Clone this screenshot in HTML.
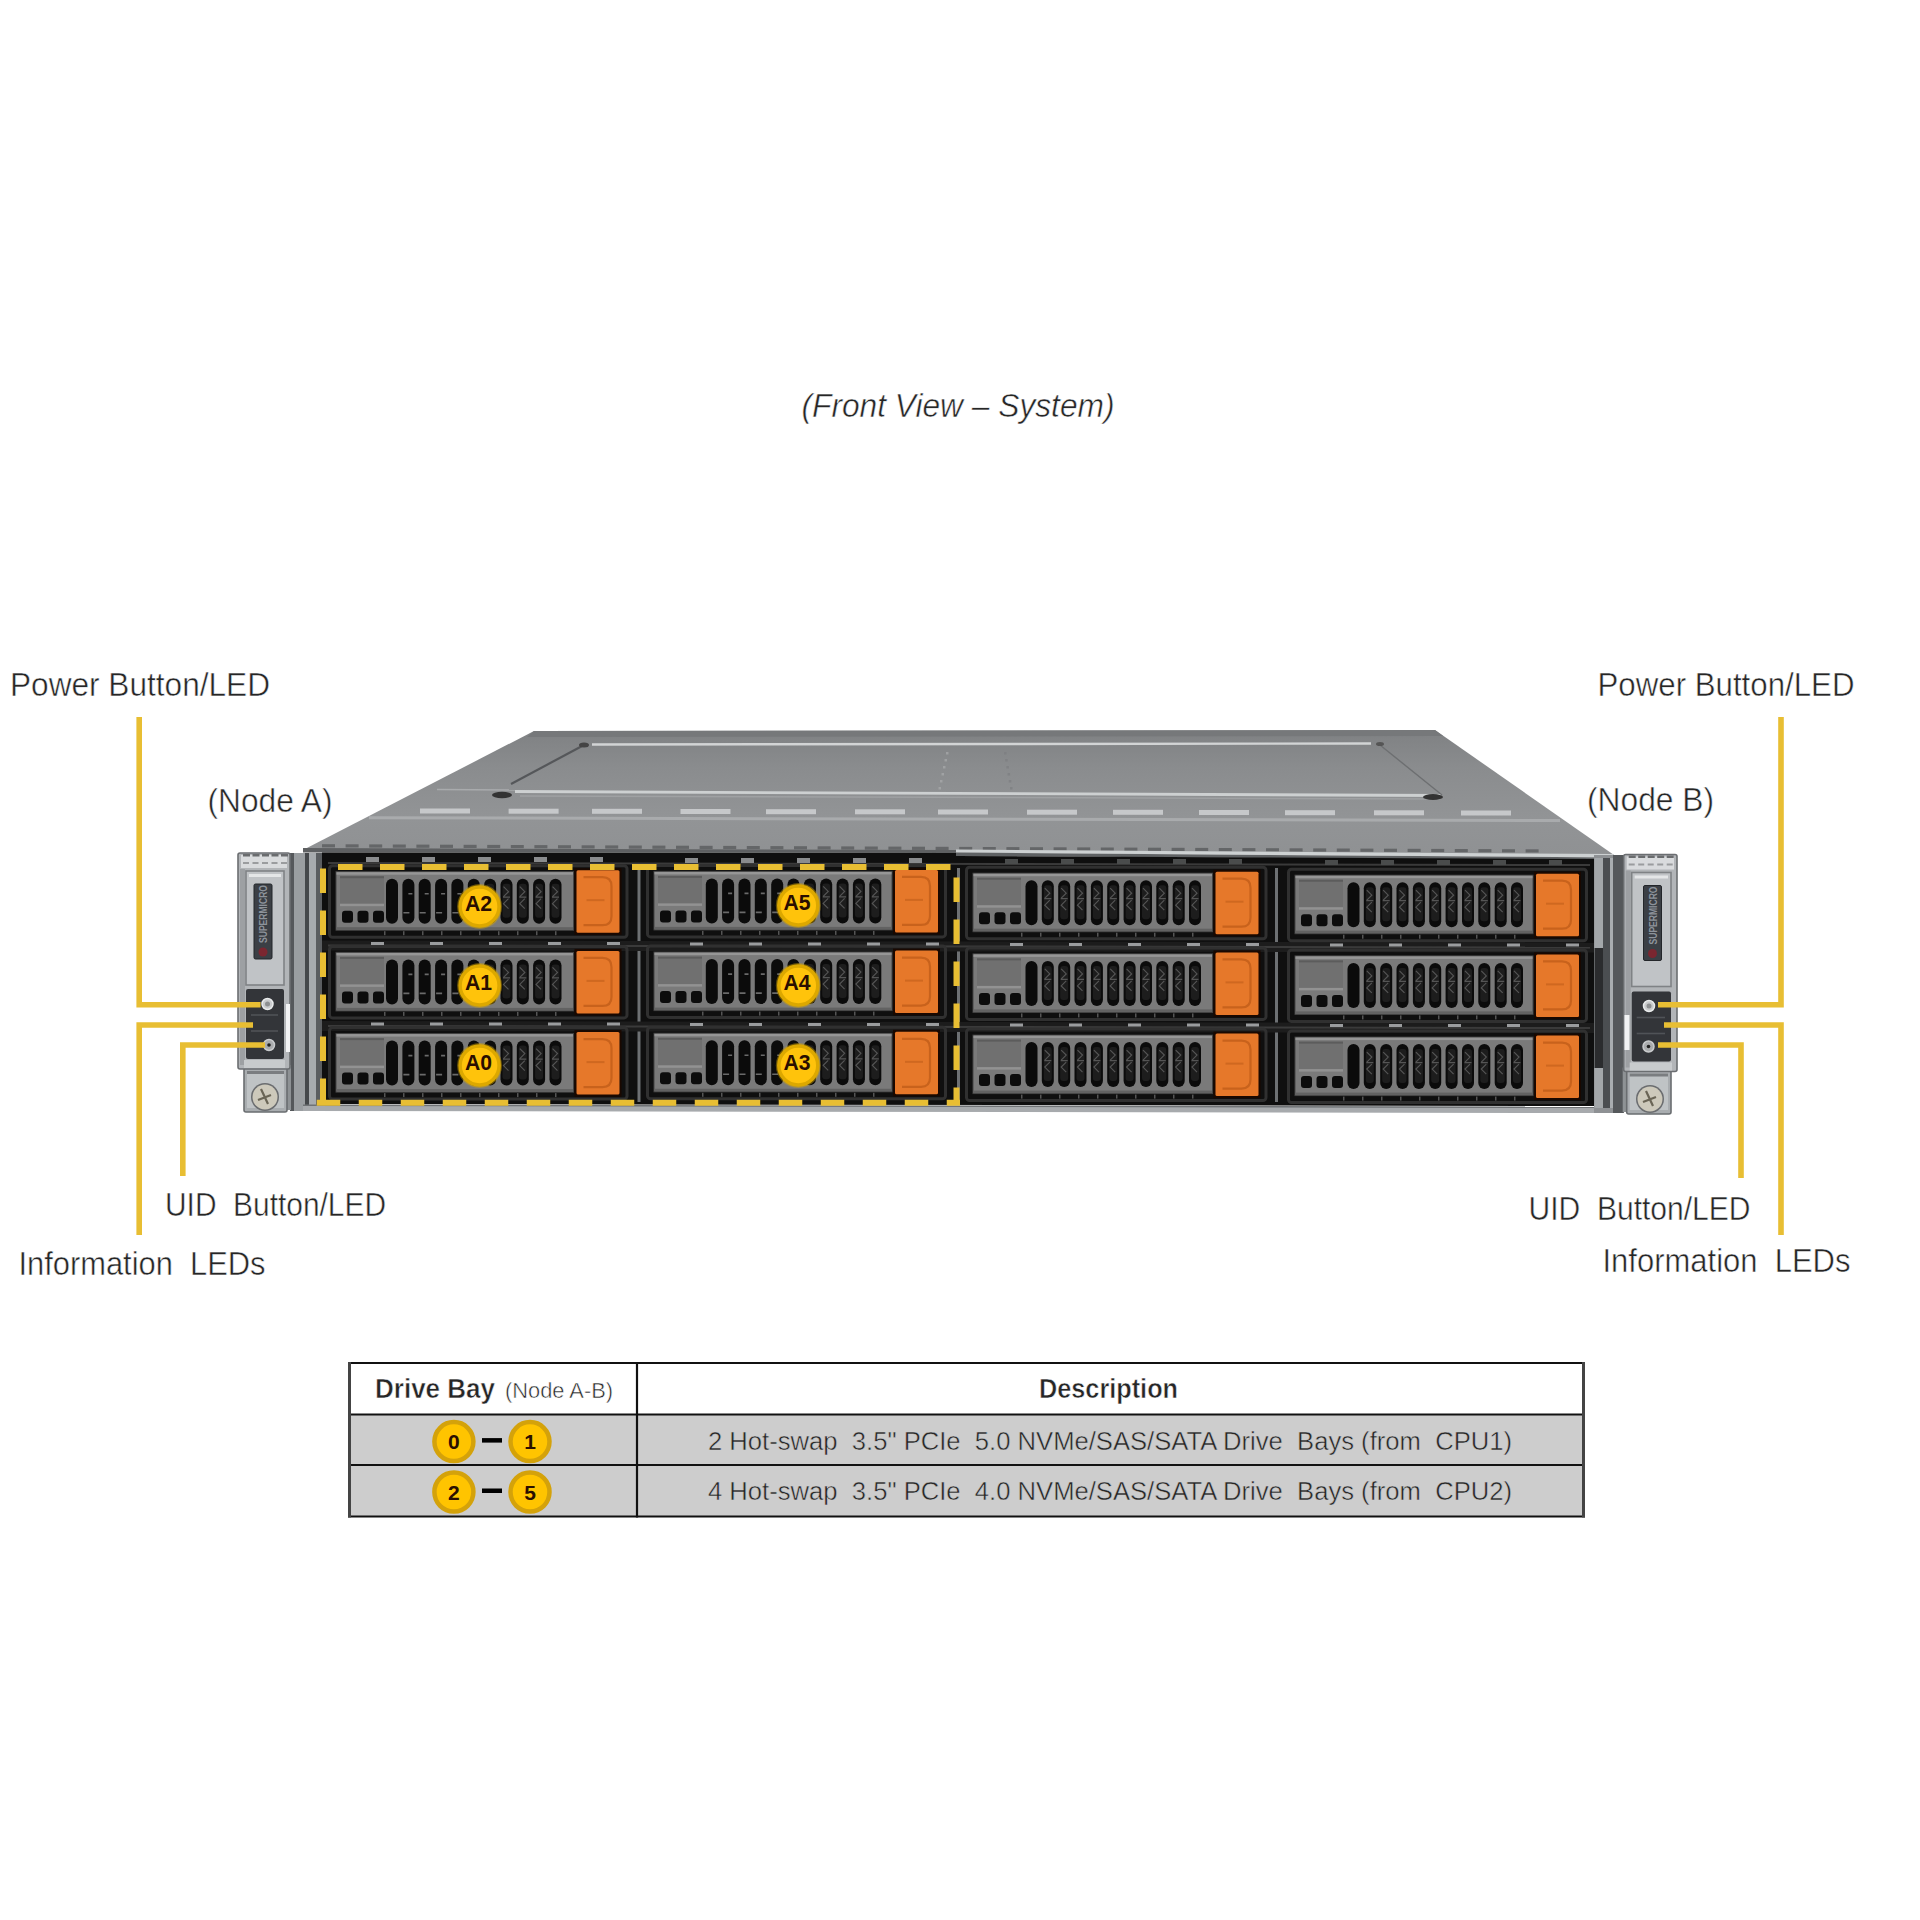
<!DOCTYPE html>
<html><head><meta charset="utf-8"><style>
html,body{margin:0;padding:0;background:#fff;width:1920px;height:1920px;overflow:hidden}
svg{display:block}
text{font-family:"Liberation Sans", sans-serif;white-space:pre}
</style></head><body>
<svg width="1920" height="1920" viewBox="0 0 1920 1920">
<defs><linearGradient id="gtop" x1="0" y1="0" x2="0" y2="1"><stop offset="0" stop-color="#7f8183"/><stop offset="0.3" stop-color="#8a8c8e"/><stop offset="0.7" stop-color="#929496"/><stop offset="1" stop-color="#8f9193"/></linearGradient></defs>
<polygon points="534,731 1435,730 1614,855 303,850" fill="url(#gtop)"/>
<polygon points="534,731 1435,730 1443,736 527,737" fill="#76787a"/>
<line x1="592" y1="744.5" x2="1371" y2="743.5" stroke="#d2d4d5" stroke-width="2.4"/>
<line x1="515" y1="791.5" x2="1441" y2="795.5" stroke="#cdd0d1" stroke-width="2.8"/>
<line x1="520" y1="796" x2="1440" y2="799" stroke="#9fa1a3" stroke-width="1.5"/>
<line x1="511" y1="784" x2="584" y2="745" stroke="#55575a" stroke-width="2.2"/>
<line x1="1380" y1="745" x2="1442" y2="795" stroke="#6d6f71" stroke-width="1.4"/>
<ellipse cx="584" cy="745" rx="5" ry="2.5" fill="#444"/>
<ellipse cx="1380" cy="744" rx="4" ry="2" fill="#555"/>
<ellipse cx="502" cy="795" rx="10" ry="3.2" fill="#333"/>
<ellipse cx="1433" cy="797" rx="10" ry="3" fill="#333"/>
<rect x="946.0" y="752" width="2.5" height="2.5" fill="#a9abad" opacity="0.7"/>
<rect x="1004.0" y="752" width="2.5" height="2.5" fill="#7c7e80" opacity="0.7"/>
<rect x="944.5" y="759" width="2.5" height="2.5" fill="#a9abad" opacity="0.7"/>
<rect x="1005.2" y="759" width="2.5" height="2.5" fill="#7c7e80" opacity="0.7"/>
<rect x="943.0" y="766" width="2.5" height="2.5" fill="#a9abad" opacity="0.7"/>
<rect x="1006.4" y="766" width="2.5" height="2.5" fill="#7c7e80" opacity="0.7"/>
<rect x="941.5" y="773" width="2.5" height="2.5" fill="#a9abad" opacity="0.7"/>
<rect x="1007.6" y="773" width="2.5" height="2.5" fill="#7c7e80" opacity="0.7"/>
<rect x="940.0" y="780" width="2.5" height="2.5" fill="#a9abad" opacity="0.7"/>
<rect x="1008.8" y="780" width="2.5" height="2.5" fill="#7c7e80" opacity="0.7"/>
<rect x="938.5" y="787" width="2.5" height="2.5" fill="#a9abad" opacity="0.7"/>
<rect x="1010.0" y="787" width="2.5" height="2.5" fill="#7c7e80" opacity="0.7"/>
<rect x="420" y="808.5" width="50" height="5" fill="#c6c8ca"/>
<rect x="508.6" y="808.7" width="50" height="5" fill="#c6c8ca"/>
<rect x="592" y="808.8" width="50" height="5" fill="#c6c8ca"/>
<rect x="680.5" y="809.0" width="50" height="5" fill="#c6c8ca"/>
<rect x="766" y="809.2" width="50" height="5" fill="#c6c8ca"/>
<rect x="855" y="809.3" width="50" height="5" fill="#c6c8ca"/>
<rect x="938" y="809.5" width="50" height="5" fill="#c6c8ca"/>
<rect x="1027" y="809.7" width="50" height="5" fill="#c6c8ca"/>
<rect x="1113" y="809.8" width="50" height="5" fill="#c6c8ca"/>
<rect x="1199" y="810.0" width="50" height="5" fill="#c6c8ca"/>
<rect x="1285" y="810.2" width="50" height="5" fill="#c6c8ca"/>
<rect x="1374" y="810.3" width="50" height="5" fill="#c6c8ca"/>
<rect x="1461" y="810.5" width="50" height="5" fill="#c6c8ca"/>
<line x1="369" y1="817.8" x2="1560" y2="820.5" stroke="#a9abad" stroke-width="3"/>
<line x1="437" y1="789.5" x2="515" y2="790" stroke="#a9abad" stroke-width="1.6"/>
<rect x="322.0" y="844.2" width="13" height="3.2" fill="#646668"/>
<rect x="345.6" y="844.3" width="13" height="3.2" fill="#646668"/>
<rect x="369.2" y="844.4" width="13" height="3.2" fill="#646668"/>
<rect x="392.8" y="844.5" width="13" height="3.2" fill="#646668"/>
<rect x="416.4" y="844.6" width="13" height="3.2" fill="#646668"/>
<rect x="440.0" y="844.7" width="13" height="3.2" fill="#646668"/>
<rect x="463.6" y="844.8" width="13" height="3.2" fill="#646668"/>
<rect x="487.2" y="844.9" width="13" height="3.2" fill="#646668"/>
<rect x="510.8" y="845.0" width="13" height="3.2" fill="#646668"/>
<rect x="534.4" y="845.1" width="13" height="3.2" fill="#646668"/>
<rect x="558.0" y="845.2" width="13" height="3.2" fill="#646668"/>
<rect x="581.6" y="845.3" width="13" height="3.2" fill="#646668"/>
<rect x="605.2" y="845.4" width="13" height="3.2" fill="#646668"/>
<rect x="628.8" y="845.5" width="13" height="3.2" fill="#646668"/>
<rect x="652.4" y="845.6" width="13" height="3.2" fill="#646668"/>
<rect x="676.0" y="845.7" width="13" height="3.2" fill="#646668"/>
<rect x="699.6" y="845.8" width="13" height="3.2" fill="#646668"/>
<rect x="723.2" y="845.9" width="13" height="3.2" fill="#646668"/>
<rect x="746.8" y="846.0" width="13" height="3.2" fill="#646668"/>
<rect x="770.4" y="846.1" width="13" height="3.2" fill="#646668"/>
<rect x="794.0" y="846.2" width="13" height="3.2" fill="#646668"/>
<rect x="817.6" y="846.3" width="13" height="3.2" fill="#646668"/>
<rect x="841.2" y="846.4" width="13" height="3.2" fill="#646668"/>
<rect x="864.8" y="846.5" width="13" height="3.2" fill="#646668"/>
<rect x="888.4" y="846.6" width="13" height="3.2" fill="#646668"/>
<rect x="912.0" y="846.7" width="13" height="3.2" fill="#646668"/>
<rect x="935.6" y="846.8" width="13" height="3.2" fill="#646668"/>
<rect x="959.2" y="846.9" width="13" height="3.2" fill="#646668"/>
<rect x="982.8" y="847.0" width="13" height="3.2" fill="#646668"/>
<rect x="1006.4" y="847.1" width="13" height="3.2" fill="#646668"/>
<rect x="1030.0" y="847.2" width="13" height="3.2" fill="#646668"/>
<rect x="1053.6" y="847.3" width="13" height="3.2" fill="#646668"/>
<rect x="1077.2" y="847.4" width="13" height="3.2" fill="#646668"/>
<rect x="1100.8" y="847.5" width="13" height="3.2" fill="#646668"/>
<rect x="1124.4" y="847.6" width="13" height="3.2" fill="#646668"/>
<rect x="1148.0" y="847.7" width="13" height="3.2" fill="#646668"/>
<rect x="1171.6" y="847.8" width="13" height="3.2" fill="#646668"/>
<rect x="1195.2" y="847.9" width="13" height="3.2" fill="#646668"/>
<rect x="1218.8" y="848.0" width="13" height="3.2" fill="#646668"/>
<rect x="1242.4" y="848.1" width="13" height="3.2" fill="#646668"/>
<rect x="1266.0" y="848.2" width="13" height="3.2" fill="#646668"/>
<rect x="1289.6" y="848.3" width="13" height="3.2" fill="#646668"/>
<rect x="1313.2" y="848.4" width="13" height="3.2" fill="#646668"/>
<rect x="1336.8" y="848.5" width="13" height="3.2" fill="#646668"/>
<rect x="1360.4" y="848.6" width="13" height="3.2" fill="#646668"/>
<rect x="1384.0" y="848.7" width="13" height="3.2" fill="#646668"/>
<rect x="1407.6" y="848.8" width="13" height="3.2" fill="#646668"/>
<rect x="1431.2" y="848.9" width="13" height="3.2" fill="#646668"/>
<rect x="1454.8" y="849.0" width="13" height="3.2" fill="#646668"/>
<rect x="1478.4" y="849.1" width="13" height="3.2" fill="#646668"/>
<rect x="1502.0" y="849.2" width="13" height="3.2" fill="#646668"/>
<rect x="1525.6" y="849.3" width="13" height="3.2" fill="#646668"/>
<polygon points="303,848 956,850 956,853 303,852.5" fill="#5e6062"/>
<polygon points="956,849.5 1614,854 1614,857.5 956,852.5" fill="#cdd1d2"/>
<polygon points="956,852.5 1614,857.5 1614,860 956,856" fill="#5f6264"/>
<rect x="290" y="853" width="33" height="258" fill="#8e9194"/>
<rect x="290" y="853" width="4" height="258" fill="#55585b"/>
<rect x="294" y="853" width="11" height="258" fill="#9a9ea1"/>
<rect x="305" y="853" width="4" height="258" fill="#45484b"/>
<rect x="309" y="853" width="7" height="258" fill="#a7abae"/>
<rect x="316" y="853" width="6" height="258" fill="#5a5d60"/>
<rect x="1594" y="855" width="30" height="258" fill="#8e9194"/>
<rect x="1594.5" y="858" width="8.5" height="250" fill="#a3a7aa"/>
<rect x="1603" y="858" width="7" height="250" fill="#4b4e51"/>
<rect x="1610" y="858" width="3" height="250" fill="#a9adb0"/>
<rect x="1613" y="855" width="10.7" height="258" fill="#55585b"/>
<rect x="1594.5" y="948" width="8.5" height="120" fill="#2b2c2e"/>
<polygon points="322,852.5 956,853 956,856 1594,859 1594,1106 322,1104" fill="#0f0f0f"/>
<polygon points="328,862 1590,864 1590,866 328,864" fill="#3a3a3a"/>
<rect x="366" y="857.0" width="13" height="5" fill="#8a8c8e"/>
<rect x="422" y="857.0" width="13" height="5" fill="#8a8c8e"/>
<rect x="478" y="857.0" width="13" height="5" fill="#8a8c8e"/>
<rect x="534" y="857.0" width="13" height="5" fill="#8a8c8e"/>
<rect x="590" y="857.0" width="13" height="5" fill="#8a8c8e"/>
<rect x="685" y="858.0" width="13" height="5" fill="#8a8c8e"/>
<rect x="741" y="858.0" width="13" height="5" fill="#8a8c8e"/>
<rect x="797" y="858.0" width="13" height="5" fill="#8a8c8e"/>
<rect x="853" y="858.0" width="13" height="5" fill="#8a8c8e"/>
<rect x="909" y="858.0" width="13" height="5" fill="#8a8c8e"/>
<rect x="1005" y="859.0" width="13" height="5" fill="#4a4c4c"/>
<rect x="1061" y="859.0" width="13" height="5" fill="#4a4c4c"/>
<rect x="1117" y="859.0" width="13" height="5" fill="#4a4c4c"/>
<rect x="1173" y="859.0" width="13" height="5" fill="#4a4c4c"/>
<rect x="1229" y="859.0" width="13" height="5" fill="#4a4c4c"/>
<rect x="1325" y="860.0" width="13" height="5" fill="#4a4c4c"/>
<rect x="1381" y="860.0" width="13" height="5" fill="#4a4c4c"/>
<rect x="1437" y="860.0" width="13" height="5" fill="#4a4c4c"/>
<rect x="1493" y="860.0" width="13" height="5" fill="#4a4c4c"/>
<rect x="1549" y="860.0" width="13" height="5" fill="#4a4c4c"/>
<rect x="637.5" y="868" width="3" height="234" fill="#6d7073"/>
<rect x="957" y="868" width="3" height="234" fill="#6d7073"/>
<rect x="1275" y="868" width="3" height="234" fill="#6d7073"/>
<polygon points="322,940.5 1594,942.5 1594,952.5 322,950.5" fill="#1c1c1c"/>
<line x1="328" y1="945.5" x2="1590" y2="947.5" stroke="#3a3a3a" stroke-width="2"/>
<polygon points="322,1021 1594,1023 1594,1033 322,1031" fill="#1c1c1c"/>
<line x1="328" y1="1026" x2="1590" y2="1028" stroke="#3a3a3a" stroke-width="2"/>
<rect x="329.5" y="865.7" width="297.5" height="71.5" rx="3" fill="none" stroke="#303030" stroke-width="3"/>
<rect x="336" y="871.7" width="237.5" height="58.5" fill="#7a7a7a" stroke="#444" stroke-width="1"/>
<rect x="336.5" y="872.2" width="236.5" height="2.5" fill="#969696"/>
<rect x="336.5" y="927.2" width="236.5" height="2.5" fill="#626262"/>
<rect x="340" y="876.2" width="44" height="28" fill="#707070"/>
<rect x="340" y="876.2" width="44" height="2" fill="#5c5c5c"/>
<rect x="340" y="903.7" width="44" height="2.5" fill="#929292"/>
<rect x="342.0" y="910.7" width="11" height="12" rx="3" fill="#0c0c0c"/>
<rect x="357.5" y="910.7" width="11" height="12" rx="3" fill="#0c0c0c"/>
<rect x="373.0" y="910.7" width="11" height="12" rx="3" fill="#0c0c0c"/>
<rect x="386.0" y="878.7" width="12" height="45" rx="6" fill="#0b0b0b"/>
<rect x="402.4" y="878.7" width="12" height="45" rx="6" fill="#0b0b0b"/>
<path d="M408.4,893.7 h4 M403.4,912.7 h6" stroke="#6a6a6a" stroke-width="1.6" fill="none"/>
<rect x="418.7" y="878.7" width="12" height="45" rx="6" fill="#0b0b0b"/>
<path d="M424.7,893.7 h4 M419.7,912.7 h6" stroke="#6a6a6a" stroke-width="1.6" fill="none"/>
<rect x="435.1" y="878.7" width="12" height="45" rx="6" fill="#0b0b0b"/>
<path d="M441.1,893.7 h4 M436.1,912.7 h6" stroke="#6a6a6a" stroke-width="1.6" fill="none"/>
<rect x="451.4" y="878.7" width="12" height="45" rx="6" fill="#0b0b0b"/>
<path d="M457.4,893.7 h4 M452.4,912.7 h6" stroke="#6a6a6a" stroke-width="1.6" fill="none"/>
<rect x="467.8" y="878.7" width="12" height="45" rx="6" fill="#0b0b0b"/>
<path d="M473.8,893.7 h4 M468.8,912.7 h6" stroke="#6a6a6a" stroke-width="1.6" fill="none"/>
<rect x="484.1" y="878.7" width="12" height="45" rx="6" fill="#0b0b0b"/>
<rect x="486.1" y="883.7" width="8" height="34" rx="3" fill="#1d1d1d"/>
<path d="M487.1,886.7 l5,5 l-5,5 M492.1,898.7 l-5,5 l5,5 M486.6,897.2 h7" stroke="#555" stroke-width="1.2" fill="none"/>
<rect x="500.5" y="878.7" width="12" height="45" rx="6" fill="#0b0b0b"/>
<rect x="502.5" y="883.7" width="8" height="34" rx="3" fill="#1d1d1d"/>
<path d="M503.5,886.7 l5,5 l-5,5 M508.5,898.7 l-5,5 l5,5 M503.0,897.2 h7" stroke="#555" stroke-width="1.2" fill="none"/>
<rect x="516.8" y="878.7" width="12" height="45" rx="6" fill="#0b0b0b"/>
<rect x="518.8" y="883.7" width="8" height="34" rx="3" fill="#1d1d1d"/>
<path d="M519.8,886.7 l5,5 l-5,5 M524.8,898.7 l-5,5 l5,5 M519.3,897.2 h7" stroke="#555" stroke-width="1.2" fill="none"/>
<rect x="533.1" y="878.7" width="12" height="45" rx="6" fill="#0b0b0b"/>
<rect x="535.1" y="883.7" width="8" height="34" rx="3" fill="#1d1d1d"/>
<path d="M536.1,886.7 l5,5 l-5,5 M541.1,898.7 l-5,5 l5,5 M535.6,897.2 h7" stroke="#555" stroke-width="1.2" fill="none"/>
<rect x="549.5" y="878.7" width="12" height="45" rx="6" fill="#0b0b0b"/>
<rect x="551.5" y="883.7" width="8" height="34" rx="3" fill="#1d1d1d"/>
<path d="M552.5,886.7 l5,5 l-5,5 M557.5,898.7 l-5,5 l5,5 M552.0,897.2 h7" stroke="#555" stroke-width="1.2" fill="none"/>
<rect x="384" y="931.2" width="1.5" height="4" fill="#555"/>
<rect x="403" y="931.2" width="1.5" height="4" fill="#555"/>
<rect x="422" y="931.2" width="1.5" height="4" fill="#555"/>
<rect x="441" y="931.2" width="1.5" height="4" fill="#555"/>
<rect x="460" y="931.2" width="1.5" height="4" fill="#555"/>
<rect x="479" y="931.2" width="1.5" height="4" fill="#555"/>
<rect x="498" y="931.2" width="1.5" height="4" fill="#555"/>
<rect x="517" y="931.2" width="1.5" height="4" fill="#555"/>
<rect x="536" y="931.2" width="1.5" height="4" fill="#555"/>
<rect x="555" y="931.2" width="1.5" height="4" fill="#555"/>
<rect x="574.5" y="868.2" width="47" height="66.5" fill="#1a0800"/>
<rect x="576.5" y="870.2" width="43" height="62.5" rx="1.5" fill="#E6782A"/>
<path d="M583.5,877.2 h19 q9,0 9,9 v30 q0,9 -9,9 h-19" fill="none" stroke="#c8621c" stroke-width="2.2"/>
<rect x="586.5" y="899.2" width="18" height="2" fill="#cf6820"/>
<rect x="329.5" y="946.4" width="297.5" height="71.5" rx="3" fill="none" stroke="#303030" stroke-width="3"/>
<rect x="336" y="952.4" width="237.5" height="58.5" fill="#7a7a7a" stroke="#444" stroke-width="1"/>
<rect x="336.5" y="952.9" width="236.5" height="2.5" fill="#969696"/>
<rect x="336.5" y="1007.9" width="236.5" height="2.5" fill="#626262"/>
<rect x="340" y="956.9" width="44" height="28" fill="#707070"/>
<rect x="340" y="956.9" width="44" height="2" fill="#5c5c5c"/>
<rect x="340" y="984.4" width="44" height="2.5" fill="#929292"/>
<rect x="342.0" y="991.4" width="11" height="12" rx="3" fill="#0c0c0c"/>
<rect x="357.5" y="991.4" width="11" height="12" rx="3" fill="#0c0c0c"/>
<rect x="373.0" y="991.4" width="11" height="12" rx="3" fill="#0c0c0c"/>
<rect x="386.0" y="959.4" width="12" height="45" rx="6" fill="#0b0b0b"/>
<rect x="402.4" y="959.4" width="12" height="45" rx="6" fill="#0b0b0b"/>
<path d="M408.4,974.4 h4 M403.4,993.4 h6" stroke="#6a6a6a" stroke-width="1.6" fill="none"/>
<rect x="418.7" y="959.4" width="12" height="45" rx="6" fill="#0b0b0b"/>
<path d="M424.7,974.4 h4 M419.7,993.4 h6" stroke="#6a6a6a" stroke-width="1.6" fill="none"/>
<rect x="435.1" y="959.4" width="12" height="45" rx="6" fill="#0b0b0b"/>
<path d="M441.1,974.4 h4 M436.1,993.4 h6" stroke="#6a6a6a" stroke-width="1.6" fill="none"/>
<rect x="451.4" y="959.4" width="12" height="45" rx="6" fill="#0b0b0b"/>
<path d="M457.4,974.4 h4 M452.4,993.4 h6" stroke="#6a6a6a" stroke-width="1.6" fill="none"/>
<rect x="467.8" y="959.4" width="12" height="45" rx="6" fill="#0b0b0b"/>
<path d="M473.8,974.4 h4 M468.8,993.4 h6" stroke="#6a6a6a" stroke-width="1.6" fill="none"/>
<rect x="484.1" y="959.4" width="12" height="45" rx="6" fill="#0b0b0b"/>
<rect x="486.1" y="964.4" width="8" height="34" rx="3" fill="#1d1d1d"/>
<path d="M487.1,967.4 l5,5 l-5,5 M492.1,979.4 l-5,5 l5,5 M486.6,977.9 h7" stroke="#555" stroke-width="1.2" fill="none"/>
<rect x="500.5" y="959.4" width="12" height="45" rx="6" fill="#0b0b0b"/>
<rect x="502.5" y="964.4" width="8" height="34" rx="3" fill="#1d1d1d"/>
<path d="M503.5,967.4 l5,5 l-5,5 M508.5,979.4 l-5,5 l5,5 M503.0,977.9 h7" stroke="#555" stroke-width="1.2" fill="none"/>
<rect x="516.8" y="959.4" width="12" height="45" rx="6" fill="#0b0b0b"/>
<rect x="518.8" y="964.4" width="8" height="34" rx="3" fill="#1d1d1d"/>
<path d="M519.8,967.4 l5,5 l-5,5 M524.8,979.4 l-5,5 l5,5 M519.3,977.9 h7" stroke="#555" stroke-width="1.2" fill="none"/>
<rect x="533.1" y="959.4" width="12" height="45" rx="6" fill="#0b0b0b"/>
<rect x="535.1" y="964.4" width="8" height="34" rx="3" fill="#1d1d1d"/>
<path d="M536.1,967.4 l5,5 l-5,5 M541.1,979.4 l-5,5 l5,5 M535.6,977.9 h7" stroke="#555" stroke-width="1.2" fill="none"/>
<rect x="549.5" y="959.4" width="12" height="45" rx="6" fill="#0b0b0b"/>
<rect x="551.5" y="964.4" width="8" height="34" rx="3" fill="#1d1d1d"/>
<path d="M552.5,967.4 l5,5 l-5,5 M557.5,979.4 l-5,5 l5,5 M552.0,977.9 h7" stroke="#555" stroke-width="1.2" fill="none"/>
<rect x="384" y="1011.9" width="1.5" height="4" fill="#555"/>
<rect x="403" y="1011.9" width="1.5" height="4" fill="#555"/>
<rect x="422" y="1011.9" width="1.5" height="4" fill="#555"/>
<rect x="441" y="1011.9" width="1.5" height="4" fill="#555"/>
<rect x="460" y="1011.9" width="1.5" height="4" fill="#555"/>
<rect x="479" y="1011.9" width="1.5" height="4" fill="#555"/>
<rect x="498" y="1011.9" width="1.5" height="4" fill="#555"/>
<rect x="517" y="1011.9" width="1.5" height="4" fill="#555"/>
<rect x="536" y="1011.9" width="1.5" height="4" fill="#555"/>
<rect x="555" y="1011.9" width="1.5" height="4" fill="#555"/>
<rect x="574.5" y="948.9" width="47" height="66.5" fill="#1a0800"/>
<rect x="576.5" y="950.9" width="43" height="62.5" rx="1.5" fill="#E6782A"/>
<path d="M583.5,957.9 h19 q9,0 9,9 v30 q0,9 -9,9 h-19" fill="none" stroke="#c8621c" stroke-width="2.2"/>
<rect x="586.5" y="979.9" width="18" height="2" fill="#cf6820"/>
<rect x="329.5" y="1027.6" width="297.5" height="71.5" rx="3" fill="none" stroke="#303030" stroke-width="3"/>
<rect x="336" y="1033.6" width="237.5" height="58.5" fill="#7a7a7a" stroke="#444" stroke-width="1"/>
<rect x="336.5" y="1034.1" width="236.5" height="2.5" fill="#969696"/>
<rect x="336.5" y="1089.1" width="236.5" height="2.5" fill="#626262"/>
<rect x="340" y="1038.1" width="44" height="28" fill="#707070"/>
<rect x="340" y="1038.1" width="44" height="2" fill="#5c5c5c"/>
<rect x="340" y="1065.6" width="44" height="2.5" fill="#929292"/>
<rect x="342.0" y="1072.6" width="11" height="12" rx="3" fill="#0c0c0c"/>
<rect x="357.5" y="1072.6" width="11" height="12" rx="3" fill="#0c0c0c"/>
<rect x="373.0" y="1072.6" width="11" height="12" rx="3" fill="#0c0c0c"/>
<rect x="386.0" y="1040.6" width="12" height="45" rx="6" fill="#0b0b0b"/>
<rect x="402.4" y="1040.6" width="12" height="45" rx="6" fill="#0b0b0b"/>
<path d="M408.4,1055.6 h4 M403.4,1074.6 h6" stroke="#6a6a6a" stroke-width="1.6" fill="none"/>
<rect x="418.7" y="1040.6" width="12" height="45" rx="6" fill="#0b0b0b"/>
<path d="M424.7,1055.6 h4 M419.7,1074.6 h6" stroke="#6a6a6a" stroke-width="1.6" fill="none"/>
<rect x="435.1" y="1040.6" width="12" height="45" rx="6" fill="#0b0b0b"/>
<path d="M441.1,1055.6 h4 M436.1,1074.6 h6" stroke="#6a6a6a" stroke-width="1.6" fill="none"/>
<rect x="451.4" y="1040.6" width="12" height="45" rx="6" fill="#0b0b0b"/>
<path d="M457.4,1055.6 h4 M452.4,1074.6 h6" stroke="#6a6a6a" stroke-width="1.6" fill="none"/>
<rect x="467.8" y="1040.6" width="12" height="45" rx="6" fill="#0b0b0b"/>
<path d="M473.8,1055.6 h4 M468.8,1074.6 h6" stroke="#6a6a6a" stroke-width="1.6" fill="none"/>
<rect x="484.1" y="1040.6" width="12" height="45" rx="6" fill="#0b0b0b"/>
<rect x="486.1" y="1045.6" width="8" height="34" rx="3" fill="#1d1d1d"/>
<path d="M487.1,1048.6 l5,5 l-5,5 M492.1,1060.6 l-5,5 l5,5 M486.6,1059.1 h7" stroke="#555" stroke-width="1.2" fill="none"/>
<rect x="500.5" y="1040.6" width="12" height="45" rx="6" fill="#0b0b0b"/>
<rect x="502.5" y="1045.6" width="8" height="34" rx="3" fill="#1d1d1d"/>
<path d="M503.5,1048.6 l5,5 l-5,5 M508.5,1060.6 l-5,5 l5,5 M503.0,1059.1 h7" stroke="#555" stroke-width="1.2" fill="none"/>
<rect x="516.8" y="1040.6" width="12" height="45" rx="6" fill="#0b0b0b"/>
<rect x="518.8" y="1045.6" width="8" height="34" rx="3" fill="#1d1d1d"/>
<path d="M519.8,1048.6 l5,5 l-5,5 M524.8,1060.6 l-5,5 l5,5 M519.3,1059.1 h7" stroke="#555" stroke-width="1.2" fill="none"/>
<rect x="533.1" y="1040.6" width="12" height="45" rx="6" fill="#0b0b0b"/>
<rect x="535.1" y="1045.6" width="8" height="34" rx="3" fill="#1d1d1d"/>
<path d="M536.1,1048.6 l5,5 l-5,5 M541.1,1060.6 l-5,5 l5,5 M535.6,1059.1 h7" stroke="#555" stroke-width="1.2" fill="none"/>
<rect x="549.5" y="1040.6" width="12" height="45" rx="6" fill="#0b0b0b"/>
<rect x="551.5" y="1045.6" width="8" height="34" rx="3" fill="#1d1d1d"/>
<path d="M552.5,1048.6 l5,5 l-5,5 M557.5,1060.6 l-5,5 l5,5 M552.0,1059.1 h7" stroke="#555" stroke-width="1.2" fill="none"/>
<rect x="384" y="1093.1" width="1.5" height="4" fill="#555"/>
<rect x="403" y="1093.1" width="1.5" height="4" fill="#555"/>
<rect x="422" y="1093.1" width="1.5" height="4" fill="#555"/>
<rect x="441" y="1093.1" width="1.5" height="4" fill="#555"/>
<rect x="460" y="1093.1" width="1.5" height="4" fill="#555"/>
<rect x="479" y="1093.1" width="1.5" height="4" fill="#555"/>
<rect x="498" y="1093.1" width="1.5" height="4" fill="#555"/>
<rect x="517" y="1093.1" width="1.5" height="4" fill="#555"/>
<rect x="536" y="1093.1" width="1.5" height="4" fill="#555"/>
<rect x="555" y="1093.1" width="1.5" height="4" fill="#555"/>
<rect x="574.5" y="1030.1" width="47" height="66.5" fill="#1a0800"/>
<rect x="576.5" y="1032.1" width="43" height="62.5" rx="1.5" fill="#E6782A"/>
<path d="M583.5,1039.1 h19 q9,0 9,9 v30 q0,9 -9,9 h-19" fill="none" stroke="#c8621c" stroke-width="2.2"/>
<rect x="586.5" y="1061.1" width="18" height="2" fill="#cf6820"/>
<rect x="647.5" y="865.4000000000001" width="298.0" height="71.5" rx="3" fill="none" stroke="#303030" stroke-width="3"/>
<rect x="654" y="871.4000000000001" width="238" height="58.5" fill="#7a7a7a" stroke="#444" stroke-width="1"/>
<rect x="654.5" y="871.9000000000001" width="237" height="2.5" fill="#969696"/>
<rect x="654.5" y="926.9000000000001" width="237" height="2.5" fill="#626262"/>
<rect x="658" y="875.9000000000001" width="44" height="28" fill="#707070"/>
<rect x="658" y="875.9000000000001" width="44" height="2" fill="#5c5c5c"/>
<rect x="658" y="903.4000000000001" width="44" height="2.5" fill="#929292"/>
<rect x="660.0" y="910.4000000000001" width="11" height="12" rx="3" fill="#0c0c0c"/>
<rect x="675.5" y="910.4000000000001" width="11" height="12" rx="3" fill="#0c0c0c"/>
<rect x="691.0" y="910.4000000000001" width="11" height="12" rx="3" fill="#0c0c0c"/>
<rect x="705.8" y="878.4000000000001" width="12" height="45" rx="6" fill="#0b0b0b"/>
<rect x="722.1" y="878.4000000000001" width="12" height="45" rx="6" fill="#0b0b0b"/>
<path d="M728.1,893.4000000000001 h4 M723.1,912.4000000000001 h6" stroke="#6a6a6a" stroke-width="1.6" fill="none"/>
<rect x="738.5" y="878.4000000000001" width="12" height="45" rx="6" fill="#0b0b0b"/>
<path d="M744.5,893.4000000000001 h4 M739.5,912.4000000000001 h6" stroke="#6a6a6a" stroke-width="1.6" fill="none"/>
<rect x="754.8" y="878.4000000000001" width="12" height="45" rx="6" fill="#0b0b0b"/>
<path d="M760.8,893.4000000000001 h4 M755.8,912.4000000000001 h6" stroke="#6a6a6a" stroke-width="1.6" fill="none"/>
<rect x="771.2" y="878.4000000000001" width="12" height="45" rx="6" fill="#0b0b0b"/>
<path d="M777.2,893.4000000000001 h4 M772.2,912.4000000000001 h6" stroke="#6a6a6a" stroke-width="1.6" fill="none"/>
<rect x="787.5" y="878.4000000000001" width="12" height="45" rx="6" fill="#0b0b0b"/>
<path d="M793.5,893.4000000000001 h4 M788.5,912.4000000000001 h6" stroke="#6a6a6a" stroke-width="1.6" fill="none"/>
<rect x="803.9" y="878.4000000000001" width="12" height="45" rx="6" fill="#0b0b0b"/>
<rect x="805.9" y="883.4000000000001" width="8" height="34" rx="3" fill="#1d1d1d"/>
<path d="M806.9,886.4000000000001 l5,5 l-5,5 M811.9,898.4000000000001 l-5,5 l5,5 M806.4,896.9000000000001 h7" stroke="#555" stroke-width="1.2" fill="none"/>
<rect x="820.2" y="878.4000000000001" width="12" height="45" rx="6" fill="#0b0b0b"/>
<rect x="822.2" y="883.4000000000001" width="8" height="34" rx="3" fill="#1d1d1d"/>
<path d="M823.2,886.4000000000001 l5,5 l-5,5 M828.2,898.4000000000001 l-5,5 l5,5 M822.8,896.9000000000001 h7" stroke="#555" stroke-width="1.2" fill="none"/>
<rect x="836.6" y="878.4000000000001" width="12" height="45" rx="6" fill="#0b0b0b"/>
<rect x="838.6" y="883.4000000000001" width="8" height="34" rx="3" fill="#1d1d1d"/>
<path d="M839.6,886.4000000000001 l5,5 l-5,5 M844.6,898.4000000000001 l-5,5 l5,5 M839.1,896.9000000000001 h7" stroke="#555" stroke-width="1.2" fill="none"/>
<rect x="852.9" y="878.4000000000001" width="12" height="45" rx="6" fill="#0b0b0b"/>
<rect x="854.9" y="883.4000000000001" width="8" height="34" rx="3" fill="#1d1d1d"/>
<path d="M855.9,886.4000000000001 l5,5 l-5,5 M860.9,898.4000000000001 l-5,5 l5,5 M855.4,896.9000000000001 h7" stroke="#555" stroke-width="1.2" fill="none"/>
<rect x="869.3" y="878.4000000000001" width="12" height="45" rx="6" fill="#0b0b0b"/>
<rect x="871.3" y="883.4000000000001" width="8" height="34" rx="3" fill="#1d1d1d"/>
<path d="M872.3,886.4000000000001 l5,5 l-5,5 M877.3,898.4000000000001 l-5,5 l5,5 M871.8,896.9000000000001 h7" stroke="#555" stroke-width="1.2" fill="none"/>
<rect x="702" y="930.9000000000001" width="1.5" height="4" fill="#555"/>
<rect x="721" y="930.9000000000001" width="1.5" height="4" fill="#555"/>
<rect x="740" y="930.9000000000001" width="1.5" height="4" fill="#555"/>
<rect x="759" y="930.9000000000001" width="1.5" height="4" fill="#555"/>
<rect x="778" y="930.9000000000001" width="1.5" height="4" fill="#555"/>
<rect x="797" y="930.9000000000001" width="1.5" height="4" fill="#555"/>
<rect x="816" y="930.9000000000001" width="1.5" height="4" fill="#555"/>
<rect x="835" y="930.9000000000001" width="1.5" height="4" fill="#555"/>
<rect x="854" y="930.9000000000001" width="1.5" height="4" fill="#555"/>
<rect x="873" y="930.9000000000001" width="1.5" height="4" fill="#555"/>
<rect x="893" y="867.9000000000001" width="47" height="66.5" fill="#1a0800"/>
<rect x="895" y="869.9000000000001" width="43" height="62.5" rx="1.5" fill="#E6782A"/>
<path d="M902,876.9000000000001 h19 q9,0 9,9 v30 q0,9 -9,9 h-19" fill="none" stroke="#c8621c" stroke-width="2.2"/>
<rect x="905" y="898.9000000000001" width="18" height="2" fill="#cf6820"/>
<rect x="647.5" y="946.1" width="298.0" height="71.5" rx="3" fill="none" stroke="#303030" stroke-width="3"/>
<rect x="654" y="952.1" width="238" height="58.5" fill="#7a7a7a" stroke="#444" stroke-width="1"/>
<rect x="654.5" y="952.6" width="237" height="2.5" fill="#969696"/>
<rect x="654.5" y="1007.6" width="237" height="2.5" fill="#626262"/>
<rect x="658" y="956.6" width="44" height="28" fill="#707070"/>
<rect x="658" y="956.6" width="44" height="2" fill="#5c5c5c"/>
<rect x="658" y="984.1" width="44" height="2.5" fill="#929292"/>
<rect x="660.0" y="991.1" width="11" height="12" rx="3" fill="#0c0c0c"/>
<rect x="675.5" y="991.1" width="11" height="12" rx="3" fill="#0c0c0c"/>
<rect x="691.0" y="991.1" width="11" height="12" rx="3" fill="#0c0c0c"/>
<rect x="705.8" y="959.1" width="12" height="45" rx="6" fill="#0b0b0b"/>
<rect x="722.1" y="959.1" width="12" height="45" rx="6" fill="#0b0b0b"/>
<path d="M728.1,974.1 h4 M723.1,993.1 h6" stroke="#6a6a6a" stroke-width="1.6" fill="none"/>
<rect x="738.5" y="959.1" width="12" height="45" rx="6" fill="#0b0b0b"/>
<path d="M744.5,974.1 h4 M739.5,993.1 h6" stroke="#6a6a6a" stroke-width="1.6" fill="none"/>
<rect x="754.8" y="959.1" width="12" height="45" rx="6" fill="#0b0b0b"/>
<path d="M760.8,974.1 h4 M755.8,993.1 h6" stroke="#6a6a6a" stroke-width="1.6" fill="none"/>
<rect x="771.2" y="959.1" width="12" height="45" rx="6" fill="#0b0b0b"/>
<path d="M777.2,974.1 h4 M772.2,993.1 h6" stroke="#6a6a6a" stroke-width="1.6" fill="none"/>
<rect x="787.5" y="959.1" width="12" height="45" rx="6" fill="#0b0b0b"/>
<path d="M793.5,974.1 h4 M788.5,993.1 h6" stroke="#6a6a6a" stroke-width="1.6" fill="none"/>
<rect x="803.9" y="959.1" width="12" height="45" rx="6" fill="#0b0b0b"/>
<rect x="805.9" y="964.1" width="8" height="34" rx="3" fill="#1d1d1d"/>
<path d="M806.9,967.1 l5,5 l-5,5 M811.9,979.1 l-5,5 l5,5 M806.4,977.6 h7" stroke="#555" stroke-width="1.2" fill="none"/>
<rect x="820.2" y="959.1" width="12" height="45" rx="6" fill="#0b0b0b"/>
<rect x="822.2" y="964.1" width="8" height="34" rx="3" fill="#1d1d1d"/>
<path d="M823.2,967.1 l5,5 l-5,5 M828.2,979.1 l-5,5 l5,5 M822.8,977.6 h7" stroke="#555" stroke-width="1.2" fill="none"/>
<rect x="836.6" y="959.1" width="12" height="45" rx="6" fill="#0b0b0b"/>
<rect x="838.6" y="964.1" width="8" height="34" rx="3" fill="#1d1d1d"/>
<path d="M839.6,967.1 l5,5 l-5,5 M844.6,979.1 l-5,5 l5,5 M839.1,977.6 h7" stroke="#555" stroke-width="1.2" fill="none"/>
<rect x="852.9" y="959.1" width="12" height="45" rx="6" fill="#0b0b0b"/>
<rect x="854.9" y="964.1" width="8" height="34" rx="3" fill="#1d1d1d"/>
<path d="M855.9,967.1 l5,5 l-5,5 M860.9,979.1 l-5,5 l5,5 M855.4,977.6 h7" stroke="#555" stroke-width="1.2" fill="none"/>
<rect x="869.3" y="959.1" width="12" height="45" rx="6" fill="#0b0b0b"/>
<rect x="871.3" y="964.1" width="8" height="34" rx="3" fill="#1d1d1d"/>
<path d="M872.3,967.1 l5,5 l-5,5 M877.3,979.1 l-5,5 l5,5 M871.8,977.6 h7" stroke="#555" stroke-width="1.2" fill="none"/>
<rect x="702" y="1011.6" width="1.5" height="4" fill="#555"/>
<rect x="721" y="1011.6" width="1.5" height="4" fill="#555"/>
<rect x="740" y="1011.6" width="1.5" height="4" fill="#555"/>
<rect x="759" y="1011.6" width="1.5" height="4" fill="#555"/>
<rect x="778" y="1011.6" width="1.5" height="4" fill="#555"/>
<rect x="797" y="1011.6" width="1.5" height="4" fill="#555"/>
<rect x="816" y="1011.6" width="1.5" height="4" fill="#555"/>
<rect x="835" y="1011.6" width="1.5" height="4" fill="#555"/>
<rect x="854" y="1011.6" width="1.5" height="4" fill="#555"/>
<rect x="873" y="1011.6" width="1.5" height="4" fill="#555"/>
<rect x="893" y="948.6" width="47" height="66.5" fill="#1a0800"/>
<rect x="895" y="950.6" width="43" height="62.5" rx="1.5" fill="#E6782A"/>
<path d="M902,957.6 h19 q9,0 9,9 v30 q0,9 -9,9 h-19" fill="none" stroke="#c8621c" stroke-width="2.2"/>
<rect x="905" y="979.6" width="18" height="2" fill="#cf6820"/>
<rect x="647.5" y="1027.3" width="298.0" height="71.5" rx="3" fill="none" stroke="#303030" stroke-width="3"/>
<rect x="654" y="1033.3" width="238" height="58.5" fill="#7a7a7a" stroke="#444" stroke-width="1"/>
<rect x="654.5" y="1033.8" width="237" height="2.5" fill="#969696"/>
<rect x="654.5" y="1088.8" width="237" height="2.5" fill="#626262"/>
<rect x="658" y="1037.8" width="44" height="28" fill="#707070"/>
<rect x="658" y="1037.8" width="44" height="2" fill="#5c5c5c"/>
<rect x="658" y="1065.3" width="44" height="2.5" fill="#929292"/>
<rect x="660.0" y="1072.3" width="11" height="12" rx="3" fill="#0c0c0c"/>
<rect x="675.5" y="1072.3" width="11" height="12" rx="3" fill="#0c0c0c"/>
<rect x="691.0" y="1072.3" width="11" height="12" rx="3" fill="#0c0c0c"/>
<rect x="705.8" y="1040.3" width="12" height="45" rx="6" fill="#0b0b0b"/>
<rect x="722.1" y="1040.3" width="12" height="45" rx="6" fill="#0b0b0b"/>
<path d="M728.1,1055.3 h4 M723.1,1074.3 h6" stroke="#6a6a6a" stroke-width="1.6" fill="none"/>
<rect x="738.5" y="1040.3" width="12" height="45" rx="6" fill="#0b0b0b"/>
<path d="M744.5,1055.3 h4 M739.5,1074.3 h6" stroke="#6a6a6a" stroke-width="1.6" fill="none"/>
<rect x="754.8" y="1040.3" width="12" height="45" rx="6" fill="#0b0b0b"/>
<path d="M760.8,1055.3 h4 M755.8,1074.3 h6" stroke="#6a6a6a" stroke-width="1.6" fill="none"/>
<rect x="771.2" y="1040.3" width="12" height="45" rx="6" fill="#0b0b0b"/>
<path d="M777.2,1055.3 h4 M772.2,1074.3 h6" stroke="#6a6a6a" stroke-width="1.6" fill="none"/>
<rect x="787.5" y="1040.3" width="12" height="45" rx="6" fill="#0b0b0b"/>
<path d="M793.5,1055.3 h4 M788.5,1074.3 h6" stroke="#6a6a6a" stroke-width="1.6" fill="none"/>
<rect x="803.9" y="1040.3" width="12" height="45" rx="6" fill="#0b0b0b"/>
<rect x="805.9" y="1045.3" width="8" height="34" rx="3" fill="#1d1d1d"/>
<path d="M806.9,1048.3 l5,5 l-5,5 M811.9,1060.3 l-5,5 l5,5 M806.4,1058.8 h7" stroke="#555" stroke-width="1.2" fill="none"/>
<rect x="820.2" y="1040.3" width="12" height="45" rx="6" fill="#0b0b0b"/>
<rect x="822.2" y="1045.3" width="8" height="34" rx="3" fill="#1d1d1d"/>
<path d="M823.2,1048.3 l5,5 l-5,5 M828.2,1060.3 l-5,5 l5,5 M822.8,1058.8 h7" stroke="#555" stroke-width="1.2" fill="none"/>
<rect x="836.6" y="1040.3" width="12" height="45" rx="6" fill="#0b0b0b"/>
<rect x="838.6" y="1045.3" width="8" height="34" rx="3" fill="#1d1d1d"/>
<path d="M839.6,1048.3 l5,5 l-5,5 M844.6,1060.3 l-5,5 l5,5 M839.1,1058.8 h7" stroke="#555" stroke-width="1.2" fill="none"/>
<rect x="852.9" y="1040.3" width="12" height="45" rx="6" fill="#0b0b0b"/>
<rect x="854.9" y="1045.3" width="8" height="34" rx="3" fill="#1d1d1d"/>
<path d="M855.9,1048.3 l5,5 l-5,5 M860.9,1060.3 l-5,5 l5,5 M855.4,1058.8 h7" stroke="#555" stroke-width="1.2" fill="none"/>
<rect x="869.3" y="1040.3" width="12" height="45" rx="6" fill="#0b0b0b"/>
<rect x="871.3" y="1045.3" width="8" height="34" rx="3" fill="#1d1d1d"/>
<path d="M872.3,1048.3 l5,5 l-5,5 M877.3,1060.3 l-5,5 l5,5 M871.8,1058.8 h7" stroke="#555" stroke-width="1.2" fill="none"/>
<rect x="702" y="1092.8" width="1.5" height="4" fill="#555"/>
<rect x="721" y="1092.8" width="1.5" height="4" fill="#555"/>
<rect x="740" y="1092.8" width="1.5" height="4" fill="#555"/>
<rect x="759" y="1092.8" width="1.5" height="4" fill="#555"/>
<rect x="778" y="1092.8" width="1.5" height="4" fill="#555"/>
<rect x="797" y="1092.8" width="1.5" height="4" fill="#555"/>
<rect x="816" y="1092.8" width="1.5" height="4" fill="#555"/>
<rect x="835" y="1092.8" width="1.5" height="4" fill="#555"/>
<rect x="854" y="1092.8" width="1.5" height="4" fill="#555"/>
<rect x="873" y="1092.8" width="1.5" height="4" fill="#555"/>
<rect x="893" y="1029.8" width="47" height="66.5" fill="#1a0800"/>
<rect x="895" y="1031.8" width="43" height="62.5" rx="1.5" fill="#E6782A"/>
<path d="M902,1038.8 h19 q9,0 9,9 v30 q0,9 -9,9 h-19" fill="none" stroke="#c8621c" stroke-width="2.2"/>
<rect x="905" y="1060.8" width="18" height="2" fill="#cf6820"/>
<rect x="966.5" y="867.2" width="299.5" height="71.5" rx="3" fill="none" stroke="#303030" stroke-width="3"/>
<rect x="973" y="873.2" width="239.5" height="58.5" fill="#7a7a7a" stroke="#444" stroke-width="1"/>
<rect x="973.5" y="873.7" width="238.5" height="2.5" fill="#969696"/>
<rect x="973.5" y="928.7" width="238.5" height="2.5" fill="#626262"/>
<rect x="977" y="877.7" width="44" height="28" fill="#707070"/>
<rect x="977" y="877.7" width="44" height="2" fill="#5c5c5c"/>
<rect x="977" y="905.2" width="44" height="2.5" fill="#929292"/>
<rect x="979.0" y="912.2" width="11" height="12" rx="3" fill="#0c0c0c"/>
<rect x="994.5" y="912.2" width="11" height="12" rx="3" fill="#0c0c0c"/>
<rect x="1010.0" y="912.2" width="11" height="12" rx="3" fill="#0c0c0c"/>
<rect x="1025.5" y="880.2" width="12" height="45" rx="6" fill="#0b0b0b"/>
<rect x="1041.8" y="880.2" width="12" height="45" rx="6" fill="#0b0b0b"/>
<rect x="1043.8" y="885.2" width="8" height="34" rx="3" fill="#1d1d1d"/>
<path d="M1044.8,888.2 l5,5 l-5,5 M1049.8,900.2 l-5,5 l5,5 M1044.3,898.7 h7" stroke="#555" stroke-width="1.2" fill="none"/>
<rect x="1058.2" y="880.2" width="12" height="45" rx="6" fill="#0b0b0b"/>
<rect x="1060.2" y="885.2" width="8" height="34" rx="3" fill="#1d1d1d"/>
<path d="M1061.2,888.2 l5,5 l-5,5 M1066.2,900.2 l-5,5 l5,5 M1060.7,898.7 h7" stroke="#555" stroke-width="1.2" fill="none"/>
<rect x="1074.5" y="880.2" width="12" height="45" rx="6" fill="#0b0b0b"/>
<rect x="1076.5" y="885.2" width="8" height="34" rx="3" fill="#1d1d1d"/>
<path d="M1077.5,888.2 l5,5 l-5,5 M1082.5,900.2 l-5,5 l5,5 M1077.0,898.7 h7" stroke="#555" stroke-width="1.2" fill="none"/>
<rect x="1090.9" y="880.2" width="12" height="45" rx="6" fill="#0b0b0b"/>
<rect x="1092.9" y="885.2" width="8" height="34" rx="3" fill="#1d1d1d"/>
<path d="M1093.9,888.2 l5,5 l-5,5 M1098.9,900.2 l-5,5 l5,5 M1093.4,898.7 h7" stroke="#555" stroke-width="1.2" fill="none"/>
<rect x="1107.2" y="880.2" width="12" height="45" rx="6" fill="#0b0b0b"/>
<rect x="1109.2" y="885.2" width="8" height="34" rx="3" fill="#1d1d1d"/>
<path d="M1110.2,888.2 l5,5 l-5,5 M1115.2,900.2 l-5,5 l5,5 M1109.8,898.7 h7" stroke="#555" stroke-width="1.2" fill="none"/>
<rect x="1123.6" y="880.2" width="12" height="45" rx="6" fill="#0b0b0b"/>
<rect x="1125.6" y="885.2" width="8" height="34" rx="3" fill="#1d1d1d"/>
<path d="M1126.6,888.2 l5,5 l-5,5 M1131.6,900.2 l-5,5 l5,5 M1126.1,898.7 h7" stroke="#555" stroke-width="1.2" fill="none"/>
<rect x="1140.0" y="880.2" width="12" height="45" rx="6" fill="#0b0b0b"/>
<rect x="1142.0" y="885.2" width="8" height="34" rx="3" fill="#1d1d1d"/>
<path d="M1143.0,888.2 l5,5 l-5,5 M1148.0,900.2 l-5,5 l5,5 M1142.5,898.7 h7" stroke="#555" stroke-width="1.2" fill="none"/>
<rect x="1156.3" y="880.2" width="12" height="45" rx="6" fill="#0b0b0b"/>
<rect x="1158.3" y="885.2" width="8" height="34" rx="3" fill="#1d1d1d"/>
<path d="M1159.3,888.2 l5,5 l-5,5 M1164.3,900.2 l-5,5 l5,5 M1158.8,898.7 h7" stroke="#555" stroke-width="1.2" fill="none"/>
<rect x="1172.7" y="880.2" width="12" height="45" rx="6" fill="#0b0b0b"/>
<rect x="1174.7" y="885.2" width="8" height="34" rx="3" fill="#1d1d1d"/>
<path d="M1175.7,888.2 l5,5 l-5,5 M1180.7,900.2 l-5,5 l5,5 M1175.2,898.7 h7" stroke="#555" stroke-width="1.2" fill="none"/>
<rect x="1189.0" y="880.2" width="12" height="45" rx="6" fill="#0b0b0b"/>
<rect x="1191.0" y="885.2" width="8" height="34" rx="3" fill="#1d1d1d"/>
<path d="M1192.0,888.2 l5,5 l-5,5 M1197.0,900.2 l-5,5 l5,5 M1191.5,898.7 h7" stroke="#555" stroke-width="1.2" fill="none"/>
<rect x="1021" y="932.7" width="1.5" height="4" fill="#555"/>
<rect x="1040" y="932.7" width="1.5" height="4" fill="#555"/>
<rect x="1059" y="932.7" width="1.5" height="4" fill="#555"/>
<rect x="1078" y="932.7" width="1.5" height="4" fill="#555"/>
<rect x="1097" y="932.7" width="1.5" height="4" fill="#555"/>
<rect x="1116" y="932.7" width="1.5" height="4" fill="#555"/>
<rect x="1135" y="932.7" width="1.5" height="4" fill="#555"/>
<rect x="1154" y="932.7" width="1.5" height="4" fill="#555"/>
<rect x="1173" y="932.7" width="1.5" height="4" fill="#555"/>
<rect x="1192" y="932.7" width="1.5" height="4" fill="#555"/>
<rect x="1213.5" y="869.7" width="47" height="66.5" fill="#1a0800"/>
<rect x="1215.5" y="871.7" width="43" height="62.5" rx="1.5" fill="#E6782A"/>
<path d="M1222.5,878.7 h19 q9,0 9,9 v30 q0,9 -9,9 h-19" fill="none" stroke="#c8621c" stroke-width="2.2"/>
<rect x="1225.5" y="900.7" width="18" height="2" fill="#cf6820"/>
<rect x="966.5" y="947.9" width="299.5" height="71.5" rx="3" fill="none" stroke="#303030" stroke-width="3"/>
<rect x="973" y="953.9" width="239.5" height="58.5" fill="#7a7a7a" stroke="#444" stroke-width="1"/>
<rect x="973.5" y="954.4" width="238.5" height="2.5" fill="#969696"/>
<rect x="973.5" y="1009.4" width="238.5" height="2.5" fill="#626262"/>
<rect x="977" y="958.4" width="44" height="28" fill="#707070"/>
<rect x="977" y="958.4" width="44" height="2" fill="#5c5c5c"/>
<rect x="977" y="985.9" width="44" height="2.5" fill="#929292"/>
<rect x="979.0" y="992.9" width="11" height="12" rx="3" fill="#0c0c0c"/>
<rect x="994.5" y="992.9" width="11" height="12" rx="3" fill="#0c0c0c"/>
<rect x="1010.0" y="992.9" width="11" height="12" rx="3" fill="#0c0c0c"/>
<rect x="1025.5" y="960.9" width="12" height="45" rx="6" fill="#0b0b0b"/>
<rect x="1041.8" y="960.9" width="12" height="45" rx="6" fill="#0b0b0b"/>
<rect x="1043.8" y="965.9" width="8" height="34" rx="3" fill="#1d1d1d"/>
<path d="M1044.8,968.9 l5,5 l-5,5 M1049.8,980.9 l-5,5 l5,5 M1044.3,979.4 h7" stroke="#555" stroke-width="1.2" fill="none"/>
<rect x="1058.2" y="960.9" width="12" height="45" rx="6" fill="#0b0b0b"/>
<rect x="1060.2" y="965.9" width="8" height="34" rx="3" fill="#1d1d1d"/>
<path d="M1061.2,968.9 l5,5 l-5,5 M1066.2,980.9 l-5,5 l5,5 M1060.7,979.4 h7" stroke="#555" stroke-width="1.2" fill="none"/>
<rect x="1074.5" y="960.9" width="12" height="45" rx="6" fill="#0b0b0b"/>
<rect x="1076.5" y="965.9" width="8" height="34" rx="3" fill="#1d1d1d"/>
<path d="M1077.5,968.9 l5,5 l-5,5 M1082.5,980.9 l-5,5 l5,5 M1077.0,979.4 h7" stroke="#555" stroke-width="1.2" fill="none"/>
<rect x="1090.9" y="960.9" width="12" height="45" rx="6" fill="#0b0b0b"/>
<rect x="1092.9" y="965.9" width="8" height="34" rx="3" fill="#1d1d1d"/>
<path d="M1093.9,968.9 l5,5 l-5,5 M1098.9,980.9 l-5,5 l5,5 M1093.4,979.4 h7" stroke="#555" stroke-width="1.2" fill="none"/>
<rect x="1107.2" y="960.9" width="12" height="45" rx="6" fill="#0b0b0b"/>
<rect x="1109.2" y="965.9" width="8" height="34" rx="3" fill="#1d1d1d"/>
<path d="M1110.2,968.9 l5,5 l-5,5 M1115.2,980.9 l-5,5 l5,5 M1109.8,979.4 h7" stroke="#555" stroke-width="1.2" fill="none"/>
<rect x="1123.6" y="960.9" width="12" height="45" rx="6" fill="#0b0b0b"/>
<rect x="1125.6" y="965.9" width="8" height="34" rx="3" fill="#1d1d1d"/>
<path d="M1126.6,968.9 l5,5 l-5,5 M1131.6,980.9 l-5,5 l5,5 M1126.1,979.4 h7" stroke="#555" stroke-width="1.2" fill="none"/>
<rect x="1140.0" y="960.9" width="12" height="45" rx="6" fill="#0b0b0b"/>
<rect x="1142.0" y="965.9" width="8" height="34" rx="3" fill="#1d1d1d"/>
<path d="M1143.0,968.9 l5,5 l-5,5 M1148.0,980.9 l-5,5 l5,5 M1142.5,979.4 h7" stroke="#555" stroke-width="1.2" fill="none"/>
<rect x="1156.3" y="960.9" width="12" height="45" rx="6" fill="#0b0b0b"/>
<rect x="1158.3" y="965.9" width="8" height="34" rx="3" fill="#1d1d1d"/>
<path d="M1159.3,968.9 l5,5 l-5,5 M1164.3,980.9 l-5,5 l5,5 M1158.8,979.4 h7" stroke="#555" stroke-width="1.2" fill="none"/>
<rect x="1172.7" y="960.9" width="12" height="45" rx="6" fill="#0b0b0b"/>
<rect x="1174.7" y="965.9" width="8" height="34" rx="3" fill="#1d1d1d"/>
<path d="M1175.7,968.9 l5,5 l-5,5 M1180.7,980.9 l-5,5 l5,5 M1175.2,979.4 h7" stroke="#555" stroke-width="1.2" fill="none"/>
<rect x="1189.0" y="960.9" width="12" height="45" rx="6" fill="#0b0b0b"/>
<rect x="1191.0" y="965.9" width="8" height="34" rx="3" fill="#1d1d1d"/>
<path d="M1192.0,968.9 l5,5 l-5,5 M1197.0,980.9 l-5,5 l5,5 M1191.5,979.4 h7" stroke="#555" stroke-width="1.2" fill="none"/>
<rect x="1021" y="1013.4" width="1.5" height="4" fill="#555"/>
<rect x="1040" y="1013.4" width="1.5" height="4" fill="#555"/>
<rect x="1059" y="1013.4" width="1.5" height="4" fill="#555"/>
<rect x="1078" y="1013.4" width="1.5" height="4" fill="#555"/>
<rect x="1097" y="1013.4" width="1.5" height="4" fill="#555"/>
<rect x="1116" y="1013.4" width="1.5" height="4" fill="#555"/>
<rect x="1135" y="1013.4" width="1.5" height="4" fill="#555"/>
<rect x="1154" y="1013.4" width="1.5" height="4" fill="#555"/>
<rect x="1173" y="1013.4" width="1.5" height="4" fill="#555"/>
<rect x="1192" y="1013.4" width="1.5" height="4" fill="#555"/>
<rect x="1213.5" y="950.4" width="47" height="66.5" fill="#1a0800"/>
<rect x="1215.5" y="952.4" width="43" height="62.5" rx="1.5" fill="#E6782A"/>
<path d="M1222.5,959.4 h19 q9,0 9,9 v30 q0,9 -9,9 h-19" fill="none" stroke="#c8621c" stroke-width="2.2"/>
<rect x="1225.5" y="981.4" width="18" height="2" fill="#cf6820"/>
<rect x="966.5" y="1029.1" width="299.5" height="71.5" rx="3" fill="none" stroke="#303030" stroke-width="3"/>
<rect x="973" y="1035.1" width="239.5" height="58.5" fill="#7a7a7a" stroke="#444" stroke-width="1"/>
<rect x="973.5" y="1035.6" width="238.5" height="2.5" fill="#969696"/>
<rect x="973.5" y="1090.6" width="238.5" height="2.5" fill="#626262"/>
<rect x="977" y="1039.6" width="44" height="28" fill="#707070"/>
<rect x="977" y="1039.6" width="44" height="2" fill="#5c5c5c"/>
<rect x="977" y="1067.1" width="44" height="2.5" fill="#929292"/>
<rect x="979.0" y="1074.1" width="11" height="12" rx="3" fill="#0c0c0c"/>
<rect x="994.5" y="1074.1" width="11" height="12" rx="3" fill="#0c0c0c"/>
<rect x="1010.0" y="1074.1" width="11" height="12" rx="3" fill="#0c0c0c"/>
<rect x="1025.5" y="1042.1" width="12" height="45" rx="6" fill="#0b0b0b"/>
<rect x="1041.8" y="1042.1" width="12" height="45" rx="6" fill="#0b0b0b"/>
<rect x="1043.8" y="1047.1" width="8" height="34" rx="3" fill="#1d1d1d"/>
<path d="M1044.8,1050.1 l5,5 l-5,5 M1049.8,1062.1 l-5,5 l5,5 M1044.3,1060.6 h7" stroke="#555" stroke-width="1.2" fill="none"/>
<rect x="1058.2" y="1042.1" width="12" height="45" rx="6" fill="#0b0b0b"/>
<rect x="1060.2" y="1047.1" width="8" height="34" rx="3" fill="#1d1d1d"/>
<path d="M1061.2,1050.1 l5,5 l-5,5 M1066.2,1062.1 l-5,5 l5,5 M1060.7,1060.6 h7" stroke="#555" stroke-width="1.2" fill="none"/>
<rect x="1074.5" y="1042.1" width="12" height="45" rx="6" fill="#0b0b0b"/>
<rect x="1076.5" y="1047.1" width="8" height="34" rx="3" fill="#1d1d1d"/>
<path d="M1077.5,1050.1 l5,5 l-5,5 M1082.5,1062.1 l-5,5 l5,5 M1077.0,1060.6 h7" stroke="#555" stroke-width="1.2" fill="none"/>
<rect x="1090.9" y="1042.1" width="12" height="45" rx="6" fill="#0b0b0b"/>
<rect x="1092.9" y="1047.1" width="8" height="34" rx="3" fill="#1d1d1d"/>
<path d="M1093.9,1050.1 l5,5 l-5,5 M1098.9,1062.1 l-5,5 l5,5 M1093.4,1060.6 h7" stroke="#555" stroke-width="1.2" fill="none"/>
<rect x="1107.2" y="1042.1" width="12" height="45" rx="6" fill="#0b0b0b"/>
<rect x="1109.2" y="1047.1" width="8" height="34" rx="3" fill="#1d1d1d"/>
<path d="M1110.2,1050.1 l5,5 l-5,5 M1115.2,1062.1 l-5,5 l5,5 M1109.8,1060.6 h7" stroke="#555" stroke-width="1.2" fill="none"/>
<rect x="1123.6" y="1042.1" width="12" height="45" rx="6" fill="#0b0b0b"/>
<rect x="1125.6" y="1047.1" width="8" height="34" rx="3" fill="#1d1d1d"/>
<path d="M1126.6,1050.1 l5,5 l-5,5 M1131.6,1062.1 l-5,5 l5,5 M1126.1,1060.6 h7" stroke="#555" stroke-width="1.2" fill="none"/>
<rect x="1140.0" y="1042.1" width="12" height="45" rx="6" fill="#0b0b0b"/>
<rect x="1142.0" y="1047.1" width="8" height="34" rx="3" fill="#1d1d1d"/>
<path d="M1143.0,1050.1 l5,5 l-5,5 M1148.0,1062.1 l-5,5 l5,5 M1142.5,1060.6 h7" stroke="#555" stroke-width="1.2" fill="none"/>
<rect x="1156.3" y="1042.1" width="12" height="45" rx="6" fill="#0b0b0b"/>
<rect x="1158.3" y="1047.1" width="8" height="34" rx="3" fill="#1d1d1d"/>
<path d="M1159.3,1050.1 l5,5 l-5,5 M1164.3,1062.1 l-5,5 l5,5 M1158.8,1060.6 h7" stroke="#555" stroke-width="1.2" fill="none"/>
<rect x="1172.7" y="1042.1" width="12" height="45" rx="6" fill="#0b0b0b"/>
<rect x="1174.7" y="1047.1" width="8" height="34" rx="3" fill="#1d1d1d"/>
<path d="M1175.7,1050.1 l5,5 l-5,5 M1180.7,1062.1 l-5,5 l5,5 M1175.2,1060.6 h7" stroke="#555" stroke-width="1.2" fill="none"/>
<rect x="1189.0" y="1042.1" width="12" height="45" rx="6" fill="#0b0b0b"/>
<rect x="1191.0" y="1047.1" width="8" height="34" rx="3" fill="#1d1d1d"/>
<path d="M1192.0,1050.1 l5,5 l-5,5 M1197.0,1062.1 l-5,5 l5,5 M1191.5,1060.6 h7" stroke="#555" stroke-width="1.2" fill="none"/>
<rect x="1021" y="1094.6" width="1.5" height="4" fill="#555"/>
<rect x="1040" y="1094.6" width="1.5" height="4" fill="#555"/>
<rect x="1059" y="1094.6" width="1.5" height="4" fill="#555"/>
<rect x="1078" y="1094.6" width="1.5" height="4" fill="#555"/>
<rect x="1097" y="1094.6" width="1.5" height="4" fill="#555"/>
<rect x="1116" y="1094.6" width="1.5" height="4" fill="#555"/>
<rect x="1135" y="1094.6" width="1.5" height="4" fill="#555"/>
<rect x="1154" y="1094.6" width="1.5" height="4" fill="#555"/>
<rect x="1173" y="1094.6" width="1.5" height="4" fill="#555"/>
<rect x="1192" y="1094.6" width="1.5" height="4" fill="#555"/>
<rect x="1213.5" y="1031.6" width="47" height="66.5" fill="#1a0800"/>
<rect x="1215.5" y="1033.6" width="43" height="62.5" rx="1.5" fill="#E6782A"/>
<path d="M1222.5,1040.6 h19 q9,0 9,9 v30 q0,9 -9,9 h-19" fill="none" stroke="#c8621c" stroke-width="2.2"/>
<rect x="1225.5" y="1062.6" width="18" height="2" fill="#cf6820"/>
<rect x="1288.5" y="869.2" width="298.0" height="71.5" rx="3" fill="none" stroke="#303030" stroke-width="3"/>
<rect x="1295" y="875.2" width="238" height="58.5" fill="#7a7a7a" stroke="#444" stroke-width="1"/>
<rect x="1295.5" y="875.7" width="237" height="2.5" fill="#969696"/>
<rect x="1295.5" y="930.7" width="237" height="2.5" fill="#626262"/>
<rect x="1299" y="879.7" width="44" height="28" fill="#707070"/>
<rect x="1299" y="879.7" width="44" height="2" fill="#5c5c5c"/>
<rect x="1299" y="907.2" width="44" height="2.5" fill="#929292"/>
<rect x="1301.0" y="914.2" width="11" height="12" rx="3" fill="#0c0c0c"/>
<rect x="1316.5" y="914.2" width="11" height="12" rx="3" fill="#0c0c0c"/>
<rect x="1332.0" y="914.2" width="11" height="12" rx="3" fill="#0c0c0c"/>
<rect x="1347.5" y="882.2" width="12" height="45" rx="6" fill="#0b0b0b"/>
<rect x="1363.8" y="882.2" width="12" height="45" rx="6" fill="#0b0b0b"/>
<rect x="1365.8" y="887.2" width="8" height="34" rx="3" fill="#1d1d1d"/>
<path d="M1366.8,890.2 l5,5 l-5,5 M1371.8,902.2 l-5,5 l5,5 M1366.3,900.7 h7" stroke="#555" stroke-width="1.2" fill="none"/>
<rect x="1380.2" y="882.2" width="12" height="45" rx="6" fill="#0b0b0b"/>
<rect x="1382.2" y="887.2" width="8" height="34" rx="3" fill="#1d1d1d"/>
<path d="M1383.2,890.2 l5,5 l-5,5 M1388.2,902.2 l-5,5 l5,5 M1382.7,900.7 h7" stroke="#555" stroke-width="1.2" fill="none"/>
<rect x="1396.5" y="882.2" width="12" height="45" rx="6" fill="#0b0b0b"/>
<rect x="1398.5" y="887.2" width="8" height="34" rx="3" fill="#1d1d1d"/>
<path d="M1399.5,890.2 l5,5 l-5,5 M1404.5,902.2 l-5,5 l5,5 M1399.0,900.7 h7" stroke="#555" stroke-width="1.2" fill="none"/>
<rect x="1412.9" y="882.2" width="12" height="45" rx="6" fill="#0b0b0b"/>
<rect x="1414.9" y="887.2" width="8" height="34" rx="3" fill="#1d1d1d"/>
<path d="M1415.9,890.2 l5,5 l-5,5 M1420.9,902.2 l-5,5 l5,5 M1415.4,900.7 h7" stroke="#555" stroke-width="1.2" fill="none"/>
<rect x="1429.2" y="882.2" width="12" height="45" rx="6" fill="#0b0b0b"/>
<rect x="1431.2" y="887.2" width="8" height="34" rx="3" fill="#1d1d1d"/>
<path d="M1432.2,890.2 l5,5 l-5,5 M1437.2,902.2 l-5,5 l5,5 M1431.8,900.7 h7" stroke="#555" stroke-width="1.2" fill="none"/>
<rect x="1445.6" y="882.2" width="12" height="45" rx="6" fill="#0b0b0b"/>
<rect x="1447.6" y="887.2" width="8" height="34" rx="3" fill="#1d1d1d"/>
<path d="M1448.6,890.2 l5,5 l-5,5 M1453.6,902.2 l-5,5 l5,5 M1448.1,900.7 h7" stroke="#555" stroke-width="1.2" fill="none"/>
<rect x="1462.0" y="882.2" width="12" height="45" rx="6" fill="#0b0b0b"/>
<rect x="1464.0" y="887.2" width="8" height="34" rx="3" fill="#1d1d1d"/>
<path d="M1465.0,890.2 l5,5 l-5,5 M1470.0,902.2 l-5,5 l5,5 M1464.5,900.7 h7" stroke="#555" stroke-width="1.2" fill="none"/>
<rect x="1478.3" y="882.2" width="12" height="45" rx="6" fill="#0b0b0b"/>
<rect x="1480.3" y="887.2" width="8" height="34" rx="3" fill="#1d1d1d"/>
<path d="M1481.3,890.2 l5,5 l-5,5 M1486.3,902.2 l-5,5 l5,5 M1480.8,900.7 h7" stroke="#555" stroke-width="1.2" fill="none"/>
<rect x="1494.7" y="882.2" width="12" height="45" rx="6" fill="#0b0b0b"/>
<rect x="1496.7" y="887.2" width="8" height="34" rx="3" fill="#1d1d1d"/>
<path d="M1497.7,890.2 l5,5 l-5,5 M1502.7,902.2 l-5,5 l5,5 M1497.2,900.7 h7" stroke="#555" stroke-width="1.2" fill="none"/>
<rect x="1511.0" y="882.2" width="12" height="45" rx="6" fill="#0b0b0b"/>
<rect x="1513.0" y="887.2" width="8" height="34" rx="3" fill="#1d1d1d"/>
<path d="M1514.0,890.2 l5,5 l-5,5 M1519.0,902.2 l-5,5 l5,5 M1513.5,900.7 h7" stroke="#555" stroke-width="1.2" fill="none"/>
<rect x="1343" y="934.7" width="1.5" height="4" fill="#555"/>
<rect x="1362" y="934.7" width="1.5" height="4" fill="#555"/>
<rect x="1381" y="934.7" width="1.5" height="4" fill="#555"/>
<rect x="1400" y="934.7" width="1.5" height="4" fill="#555"/>
<rect x="1419" y="934.7" width="1.5" height="4" fill="#555"/>
<rect x="1438" y="934.7" width="1.5" height="4" fill="#555"/>
<rect x="1457" y="934.7" width="1.5" height="4" fill="#555"/>
<rect x="1476" y="934.7" width="1.5" height="4" fill="#555"/>
<rect x="1495" y="934.7" width="1.5" height="4" fill="#555"/>
<rect x="1514" y="934.7" width="1.5" height="4" fill="#555"/>
<rect x="1534" y="871.7" width="47" height="66.5" fill="#1a0800"/>
<rect x="1536" y="873.7" width="43" height="62.5" rx="1.5" fill="#E6782A"/>
<path d="M1543,880.7 h19 q9,0 9,9 v30 q0,9 -9,9 h-19" fill="none" stroke="#c8621c" stroke-width="2.2"/>
<rect x="1546" y="902.7" width="18" height="2" fill="#cf6820"/>
<rect x="1288.5" y="949.9" width="298.0" height="71.5" rx="3" fill="none" stroke="#303030" stroke-width="3"/>
<rect x="1295" y="955.9" width="238" height="58.5" fill="#7a7a7a" stroke="#444" stroke-width="1"/>
<rect x="1295.5" y="956.4" width="237" height="2.5" fill="#969696"/>
<rect x="1295.5" y="1011.4" width="237" height="2.5" fill="#626262"/>
<rect x="1299" y="960.4" width="44" height="28" fill="#707070"/>
<rect x="1299" y="960.4" width="44" height="2" fill="#5c5c5c"/>
<rect x="1299" y="987.9" width="44" height="2.5" fill="#929292"/>
<rect x="1301.0" y="994.9" width="11" height="12" rx="3" fill="#0c0c0c"/>
<rect x="1316.5" y="994.9" width="11" height="12" rx="3" fill="#0c0c0c"/>
<rect x="1332.0" y="994.9" width="11" height="12" rx="3" fill="#0c0c0c"/>
<rect x="1347.5" y="962.9" width="12" height="45" rx="6" fill="#0b0b0b"/>
<rect x="1363.8" y="962.9" width="12" height="45" rx="6" fill="#0b0b0b"/>
<rect x="1365.8" y="967.9" width="8" height="34" rx="3" fill="#1d1d1d"/>
<path d="M1366.8,970.9 l5,5 l-5,5 M1371.8,982.9 l-5,5 l5,5 M1366.3,981.4 h7" stroke="#555" stroke-width="1.2" fill="none"/>
<rect x="1380.2" y="962.9" width="12" height="45" rx="6" fill="#0b0b0b"/>
<rect x="1382.2" y="967.9" width="8" height="34" rx="3" fill="#1d1d1d"/>
<path d="M1383.2,970.9 l5,5 l-5,5 M1388.2,982.9 l-5,5 l5,5 M1382.7,981.4 h7" stroke="#555" stroke-width="1.2" fill="none"/>
<rect x="1396.5" y="962.9" width="12" height="45" rx="6" fill="#0b0b0b"/>
<rect x="1398.5" y="967.9" width="8" height="34" rx="3" fill="#1d1d1d"/>
<path d="M1399.5,970.9 l5,5 l-5,5 M1404.5,982.9 l-5,5 l5,5 M1399.0,981.4 h7" stroke="#555" stroke-width="1.2" fill="none"/>
<rect x="1412.9" y="962.9" width="12" height="45" rx="6" fill="#0b0b0b"/>
<rect x="1414.9" y="967.9" width="8" height="34" rx="3" fill="#1d1d1d"/>
<path d="M1415.9,970.9 l5,5 l-5,5 M1420.9,982.9 l-5,5 l5,5 M1415.4,981.4 h7" stroke="#555" stroke-width="1.2" fill="none"/>
<rect x="1429.2" y="962.9" width="12" height="45" rx="6" fill="#0b0b0b"/>
<rect x="1431.2" y="967.9" width="8" height="34" rx="3" fill="#1d1d1d"/>
<path d="M1432.2,970.9 l5,5 l-5,5 M1437.2,982.9 l-5,5 l5,5 M1431.8,981.4 h7" stroke="#555" stroke-width="1.2" fill="none"/>
<rect x="1445.6" y="962.9" width="12" height="45" rx="6" fill="#0b0b0b"/>
<rect x="1447.6" y="967.9" width="8" height="34" rx="3" fill="#1d1d1d"/>
<path d="M1448.6,970.9 l5,5 l-5,5 M1453.6,982.9 l-5,5 l5,5 M1448.1,981.4 h7" stroke="#555" stroke-width="1.2" fill="none"/>
<rect x="1462.0" y="962.9" width="12" height="45" rx="6" fill="#0b0b0b"/>
<rect x="1464.0" y="967.9" width="8" height="34" rx="3" fill="#1d1d1d"/>
<path d="M1465.0,970.9 l5,5 l-5,5 M1470.0,982.9 l-5,5 l5,5 M1464.5,981.4 h7" stroke="#555" stroke-width="1.2" fill="none"/>
<rect x="1478.3" y="962.9" width="12" height="45" rx="6" fill="#0b0b0b"/>
<rect x="1480.3" y="967.9" width="8" height="34" rx="3" fill="#1d1d1d"/>
<path d="M1481.3,970.9 l5,5 l-5,5 M1486.3,982.9 l-5,5 l5,5 M1480.8,981.4 h7" stroke="#555" stroke-width="1.2" fill="none"/>
<rect x="1494.7" y="962.9" width="12" height="45" rx="6" fill="#0b0b0b"/>
<rect x="1496.7" y="967.9" width="8" height="34" rx="3" fill="#1d1d1d"/>
<path d="M1497.7,970.9 l5,5 l-5,5 M1502.7,982.9 l-5,5 l5,5 M1497.2,981.4 h7" stroke="#555" stroke-width="1.2" fill="none"/>
<rect x="1511.0" y="962.9" width="12" height="45" rx="6" fill="#0b0b0b"/>
<rect x="1513.0" y="967.9" width="8" height="34" rx="3" fill="#1d1d1d"/>
<path d="M1514.0,970.9 l5,5 l-5,5 M1519.0,982.9 l-5,5 l5,5 M1513.5,981.4 h7" stroke="#555" stroke-width="1.2" fill="none"/>
<rect x="1343" y="1015.4" width="1.5" height="4" fill="#555"/>
<rect x="1362" y="1015.4" width="1.5" height="4" fill="#555"/>
<rect x="1381" y="1015.4" width="1.5" height="4" fill="#555"/>
<rect x="1400" y="1015.4" width="1.5" height="4" fill="#555"/>
<rect x="1419" y="1015.4" width="1.5" height="4" fill="#555"/>
<rect x="1438" y="1015.4" width="1.5" height="4" fill="#555"/>
<rect x="1457" y="1015.4" width="1.5" height="4" fill="#555"/>
<rect x="1476" y="1015.4" width="1.5" height="4" fill="#555"/>
<rect x="1495" y="1015.4" width="1.5" height="4" fill="#555"/>
<rect x="1514" y="1015.4" width="1.5" height="4" fill="#555"/>
<rect x="1534" y="952.4" width="47" height="66.5" fill="#1a0800"/>
<rect x="1536" y="954.4" width="43" height="62.5" rx="1.5" fill="#E6782A"/>
<path d="M1543,961.4 h19 q9,0 9,9 v30 q0,9 -9,9 h-19" fill="none" stroke="#c8621c" stroke-width="2.2"/>
<rect x="1546" y="983.4" width="18" height="2" fill="#cf6820"/>
<rect x="1288.5" y="1031.1" width="298.0" height="71.5" rx="3" fill="none" stroke="#303030" stroke-width="3"/>
<rect x="1295" y="1037.1" width="238" height="58.5" fill="#7a7a7a" stroke="#444" stroke-width="1"/>
<rect x="1295.5" y="1037.6" width="237" height="2.5" fill="#969696"/>
<rect x="1295.5" y="1092.6" width="237" height="2.5" fill="#626262"/>
<rect x="1299" y="1041.6" width="44" height="28" fill="#707070"/>
<rect x="1299" y="1041.6" width="44" height="2" fill="#5c5c5c"/>
<rect x="1299" y="1069.1" width="44" height="2.5" fill="#929292"/>
<rect x="1301.0" y="1076.1" width="11" height="12" rx="3" fill="#0c0c0c"/>
<rect x="1316.5" y="1076.1" width="11" height="12" rx="3" fill="#0c0c0c"/>
<rect x="1332.0" y="1076.1" width="11" height="12" rx="3" fill="#0c0c0c"/>
<rect x="1347.5" y="1044.1" width="12" height="45" rx="6" fill="#0b0b0b"/>
<rect x="1363.8" y="1044.1" width="12" height="45" rx="6" fill="#0b0b0b"/>
<rect x="1365.8" y="1049.1" width="8" height="34" rx="3" fill="#1d1d1d"/>
<path d="M1366.8,1052.1 l5,5 l-5,5 M1371.8,1064.1 l-5,5 l5,5 M1366.3,1062.6 h7" stroke="#555" stroke-width="1.2" fill="none"/>
<rect x="1380.2" y="1044.1" width="12" height="45" rx="6" fill="#0b0b0b"/>
<rect x="1382.2" y="1049.1" width="8" height="34" rx="3" fill="#1d1d1d"/>
<path d="M1383.2,1052.1 l5,5 l-5,5 M1388.2,1064.1 l-5,5 l5,5 M1382.7,1062.6 h7" stroke="#555" stroke-width="1.2" fill="none"/>
<rect x="1396.5" y="1044.1" width="12" height="45" rx="6" fill="#0b0b0b"/>
<rect x="1398.5" y="1049.1" width="8" height="34" rx="3" fill="#1d1d1d"/>
<path d="M1399.5,1052.1 l5,5 l-5,5 M1404.5,1064.1 l-5,5 l5,5 M1399.0,1062.6 h7" stroke="#555" stroke-width="1.2" fill="none"/>
<rect x="1412.9" y="1044.1" width="12" height="45" rx="6" fill="#0b0b0b"/>
<rect x="1414.9" y="1049.1" width="8" height="34" rx="3" fill="#1d1d1d"/>
<path d="M1415.9,1052.1 l5,5 l-5,5 M1420.9,1064.1 l-5,5 l5,5 M1415.4,1062.6 h7" stroke="#555" stroke-width="1.2" fill="none"/>
<rect x="1429.2" y="1044.1" width="12" height="45" rx="6" fill="#0b0b0b"/>
<rect x="1431.2" y="1049.1" width="8" height="34" rx="3" fill="#1d1d1d"/>
<path d="M1432.2,1052.1 l5,5 l-5,5 M1437.2,1064.1 l-5,5 l5,5 M1431.8,1062.6 h7" stroke="#555" stroke-width="1.2" fill="none"/>
<rect x="1445.6" y="1044.1" width="12" height="45" rx="6" fill="#0b0b0b"/>
<rect x="1447.6" y="1049.1" width="8" height="34" rx="3" fill="#1d1d1d"/>
<path d="M1448.6,1052.1 l5,5 l-5,5 M1453.6,1064.1 l-5,5 l5,5 M1448.1,1062.6 h7" stroke="#555" stroke-width="1.2" fill="none"/>
<rect x="1462.0" y="1044.1" width="12" height="45" rx="6" fill="#0b0b0b"/>
<rect x="1464.0" y="1049.1" width="8" height="34" rx="3" fill="#1d1d1d"/>
<path d="M1465.0,1052.1 l5,5 l-5,5 M1470.0,1064.1 l-5,5 l5,5 M1464.5,1062.6 h7" stroke="#555" stroke-width="1.2" fill="none"/>
<rect x="1478.3" y="1044.1" width="12" height="45" rx="6" fill="#0b0b0b"/>
<rect x="1480.3" y="1049.1" width="8" height="34" rx="3" fill="#1d1d1d"/>
<path d="M1481.3,1052.1 l5,5 l-5,5 M1486.3,1064.1 l-5,5 l5,5 M1480.8,1062.6 h7" stroke="#555" stroke-width="1.2" fill="none"/>
<rect x="1494.7" y="1044.1" width="12" height="45" rx="6" fill="#0b0b0b"/>
<rect x="1496.7" y="1049.1" width="8" height="34" rx="3" fill="#1d1d1d"/>
<path d="M1497.7,1052.1 l5,5 l-5,5 M1502.7,1064.1 l-5,5 l5,5 M1497.2,1062.6 h7" stroke="#555" stroke-width="1.2" fill="none"/>
<rect x="1511.0" y="1044.1" width="12" height="45" rx="6" fill="#0b0b0b"/>
<rect x="1513.0" y="1049.1" width="8" height="34" rx="3" fill="#1d1d1d"/>
<path d="M1514.0,1052.1 l5,5 l-5,5 M1519.0,1064.1 l-5,5 l5,5 M1513.5,1062.6 h7" stroke="#555" stroke-width="1.2" fill="none"/>
<rect x="1343" y="1096.6" width="1.5" height="4" fill="#555"/>
<rect x="1362" y="1096.6" width="1.5" height="4" fill="#555"/>
<rect x="1381" y="1096.6" width="1.5" height="4" fill="#555"/>
<rect x="1400" y="1096.6" width="1.5" height="4" fill="#555"/>
<rect x="1419" y="1096.6" width="1.5" height="4" fill="#555"/>
<rect x="1438" y="1096.6" width="1.5" height="4" fill="#555"/>
<rect x="1457" y="1096.6" width="1.5" height="4" fill="#555"/>
<rect x="1476" y="1096.6" width="1.5" height="4" fill="#555"/>
<rect x="1495" y="1096.6" width="1.5" height="4" fill="#555"/>
<rect x="1514" y="1096.6" width="1.5" height="4" fill="#555"/>
<rect x="1534" y="1033.6" width="47" height="66.5" fill="#1a0800"/>
<rect x="1536" y="1035.6" width="43" height="62.5" rx="1.5" fill="#E6782A"/>
<path d="M1543,1042.6 h19 q9,0 9,9 v30 q0,9 -9,9 h-19" fill="none" stroke="#c8621c" stroke-width="2.2"/>
<rect x="1546" y="1064.6" width="18" height="2" fill="#cf6820"/>
<rect x="371" y="942.0" width="13" height="3" fill="#9a9c9e"/>
<rect x="430" y="942.0" width="13" height="3" fill="#9a9c9e"/>
<rect x="489" y="942.0" width="13" height="3" fill="#9a9c9e"/>
<rect x="548" y="942.0" width="13" height="3" fill="#9a9c9e"/>
<rect x="607" y="942.0" width="13" height="3" fill="#9a9c9e"/>
<rect x="690" y="942.5" width="13" height="3" fill="#9a9c9e"/>
<rect x="749" y="942.5" width="13" height="3" fill="#9a9c9e"/>
<rect x="808" y="942.5" width="13" height="3" fill="#9a9c9e"/>
<rect x="867" y="942.5" width="13" height="3" fill="#9a9c9e"/>
<rect x="926" y="942.5" width="13" height="3" fill="#9a9c9e"/>
<rect x="1010" y="943.0" width="13" height="3" fill="#9a9c9e"/>
<rect x="1069" y="943.0" width="13" height="3" fill="#9a9c9e"/>
<rect x="1128" y="943.0" width="13" height="3" fill="#9a9c9e"/>
<rect x="1187" y="943.0" width="13" height="3" fill="#9a9c9e"/>
<rect x="1246" y="943.0" width="13" height="3" fill="#9a9c9e"/>
<rect x="1330" y="943.5" width="13" height="3" fill="#9a9c9e"/>
<rect x="1389" y="943.5" width="13" height="3" fill="#9a9c9e"/>
<rect x="1448" y="943.5" width="13" height="3" fill="#9a9c9e"/>
<rect x="1507" y="943.5" width="13" height="3" fill="#9a9c9e"/>
<rect x="1566" y="943.5" width="13" height="3" fill="#9a9c9e"/>
<rect x="371" y="1022.5" width="13" height="3" fill="#9a9c9e"/>
<rect x="430" y="1022.5" width="13" height="3" fill="#9a9c9e"/>
<rect x="489" y="1022.5" width="13" height="3" fill="#9a9c9e"/>
<rect x="548" y="1022.5" width="13" height="3" fill="#9a9c9e"/>
<rect x="607" y="1022.5" width="13" height="3" fill="#9a9c9e"/>
<rect x="690" y="1023.0" width="13" height="3" fill="#9a9c9e"/>
<rect x="749" y="1023.0" width="13" height="3" fill="#9a9c9e"/>
<rect x="808" y="1023.0" width="13" height="3" fill="#9a9c9e"/>
<rect x="867" y="1023.0" width="13" height="3" fill="#9a9c9e"/>
<rect x="926" y="1023.0" width="13" height="3" fill="#9a9c9e"/>
<rect x="1010" y="1023.5" width="13" height="3" fill="#9a9c9e"/>
<rect x="1069" y="1023.5" width="13" height="3" fill="#9a9c9e"/>
<rect x="1128" y="1023.5" width="13" height="3" fill="#9a9c9e"/>
<rect x="1187" y="1023.5" width="13" height="3" fill="#9a9c9e"/>
<rect x="1246" y="1023.5" width="13" height="3" fill="#9a9c9e"/>
<rect x="1330" y="1024.0" width="13" height="3" fill="#9a9c9e"/>
<rect x="1389" y="1024.0" width="13" height="3" fill="#9a9c9e"/>
<rect x="1448" y="1024.0" width="13" height="3" fill="#9a9c9e"/>
<rect x="1507" y="1024.0" width="13" height="3" fill="#9a9c9e"/>
<rect x="1566" y="1024.0" width="13" height="3" fill="#9a9c9e"/>
<polygon points="303,1105 1594,1107 1594,1113 303,1111" fill="#a7aaad"/>
<polygon points="303,1104.5 1594,1106.5 1594,1108 303,1106" fill="#6f7275"/>
<rect x="285" y="1065" width="6" height="45" fill="#8e9295"/>
<rect x="244" y="1065" width="43" height="47" rx="2" fill="#a9adb0" stroke="#6a6d70" stroke-width="1.6"/>
<rect x="247" y="1071" width="37" height="37" fill="#bfc3c5"/>
<rect x="247" y="1071" width="37" height="3" fill="#7a7d80"/>
<rect x="238" y="853" width="52" height="216" rx="2" fill="#b2b5b8" stroke="#6b6e71" stroke-width="1.6"/>
<rect x="241" y="855" width="46" height="13" fill="#d9dbdd"/>
<rect x="243.0" y="854" width="7" height="2.5" fill="#6a6c6e"/>
<rect x="243.0" y="862" width="6" height="2" fill="#9a9c9e"/>
<rect x="252.5" y="854" width="7" height="2.5" fill="#6a6c6e"/>
<rect x="252.5" y="862" width="6" height="2" fill="#9a9c9e"/>
<rect x="262.0" y="854" width="7" height="2.5" fill="#6a6c6e"/>
<rect x="262.0" y="862" width="6" height="2" fill="#9a9c9e"/>
<rect x="271.5" y="854" width="7" height="2.5" fill="#6a6c6e"/>
<rect x="271.5" y="862" width="6" height="2" fill="#9a9c9e"/>
<rect x="281.0" y="854" width="7" height="2.5" fill="#6a6c6e"/>
<rect x="281.0" y="862" width="6" height="2" fill="#9a9c9e"/>
<rect x="240" y="869" width="5" height="196" fill="#9da0a3"/>
<rect x="246" y="871" width="38" height="114" fill="#c0c3c6" stroke="#7f8285" stroke-width="1.6"/>
<rect x="249" y="874" width="32" height="3" fill="#e4e6e7"/>
<rect x="254" y="884" width="18" height="75" rx="1.5" fill="#3b3f45" stroke="#23262a" stroke-width="1"/>
<text x="0" y="0" transform="translate(267,914) rotate(-90)" font-size="11" font-weight="bold" fill="#8d939b" text-anchor="middle" textLength="58" lengthAdjust="spacingAndGlyphs">SUPERMICRO</text>
<circle cx="263" cy="952" r="4.5" fill="#7b2630"/>
<rect x="246" y="989" width="38" height="70" rx="2" fill="#333539"/>
<line x1="251" y1="1015" x2="278" y2="1015" stroke="#505357" stroke-width="1.6"/>
<line x1="251" y1="1031" x2="278" y2="1031" stroke="#505357" stroke-width="1.6"/>
<circle cx="267.5" cy="1004" r="5.5" fill="#c9cbcd" stroke="#e9ebec" stroke-width="1.5"/>
<circle cx="267.5" cy="1004" r="2.5" fill="#8d8f91"/>
<circle cx="269" cy="1045" r="5.5" fill="#a9abad" stroke="#c9cbcd" stroke-width="1.5"/>
<circle cx="269" cy="1045" r="1.8" fill="#222"/>
<rect x="244" y="1060" width="41" height="8" fill="#c8cbcd"/>
<circle cx="265" cy="1097" r="14" fill="#6a6c6f"/>
<circle cx="265" cy="1097" r="12.5" fill="#cdc9bb"/>
<path d="M261,1089 l7,15 M258,1100 l13,-5" stroke="#6a6556" stroke-width="2.2"/>
<rect x="1622.7" y="1067.5" width="5" height="44.5" fill="#8e9295"/>
<rect x="1626.7" y="1067.5" width="44.299999999999955" height="46.5" rx="2" fill="#a9adb0" stroke="#6a6d70" stroke-width="1.6"/>
<rect x="1629.7" y="1073.5" width="38.299999999999955" height="36.5" fill="#bfc3c5"/>
<rect x="1629.7" y="1073.5" width="38.299999999999955" height="3" fill="#7a7d80"/>
<rect x="1623.7" y="854.5" width="53.299999999999955" height="217.0" rx="2" fill="#b2b5b8" stroke="#6b6e71" stroke-width="1.6"/>
<rect x="1626.7" y="856.5" width="47.299999999999955" height="13" fill="#d9dbdd"/>
<rect x="1628.7" y="855.5" width="7" height="2.5" fill="#6a6c6e"/>
<rect x="1628.7" y="863.5" width="6" height="2" fill="#9a9c9e"/>
<rect x="1638.2" y="855.5" width="7" height="2.5" fill="#6a6c6e"/>
<rect x="1638.2" y="863.5" width="6" height="2" fill="#9a9c9e"/>
<rect x="1647.7" y="855.5" width="7" height="2.5" fill="#6a6c6e"/>
<rect x="1647.7" y="863.5" width="6" height="2" fill="#9a9c9e"/>
<rect x="1657.2" y="855.5" width="7" height="2.5" fill="#6a6c6e"/>
<rect x="1657.2" y="863.5" width="6" height="2" fill="#9a9c9e"/>
<rect x="1666.7" y="855.5" width="7" height="2.5" fill="#6a6c6e"/>
<rect x="1666.7" y="863.5" width="6" height="2" fill="#9a9c9e"/>
<rect x="1625.7" y="870.5" width="5" height="197.0" fill="#9da0a3"/>
<rect x="1631.7" y="872.5" width="39.299999999999955" height="114" fill="#c0c3c6" stroke="#7f8285" stroke-width="1.6"/>
<rect x="1634.7" y="875.5" width="33.299999999999955" height="3" fill="#e4e6e7"/>
<rect x="1643.5" y="885.5" width="18" height="75" rx="1.5" fill="#3b3f45" stroke="#23262a" stroke-width="1"/>
<text x="0" y="0" transform="translate(1656.5,915.5) rotate(-90)" font-size="11" font-weight="bold" fill="#8d939b" text-anchor="middle" textLength="58" lengthAdjust="spacingAndGlyphs">SUPERMICRO</text>
<circle cx="1652.5" cy="953.5" r="4.5" fill="#7b2630"/>
<rect x="1631.7" y="991.5" width="39.299999999999955" height="70" rx="2" fill="#333539"/>
<line x1="1636.7" y1="1017.5" x2="1665.0" y2="1017.5" stroke="#505357" stroke-width="1.6"/>
<line x1="1636.7" y1="1033.5" x2="1665.0" y2="1033.5" stroke="#505357" stroke-width="1.6"/>
<circle cx="1649" cy="1006" r="5.5" fill="#c9cbcd" stroke="#e9ebec" stroke-width="1.5"/>
<circle cx="1649" cy="1006" r="2.5" fill="#8d8f91"/>
<circle cx="1648.5" cy="1046.5" r="5.5" fill="#a9abad" stroke="#c9cbcd" stroke-width="1.5"/>
<circle cx="1648.5" cy="1046.5" r="1.8" fill="#222"/>
<rect x="1629.7" y="1062.5" width="42.299999999999955" height="8" fill="#c8cbcd"/>
<circle cx="1650" cy="1099" r="14" fill="#6a6c6f"/>
<circle cx="1650" cy="1099" r="12.5" fill="#cdc9bb"/>
<path d="M1646,1091 l7,15 M1643,1102 l13,-5" stroke="#6a6556" stroke-width="2.2"/>
<rect x="286" y="1004" width="4" height="48" fill="#f2f3f4"/>
<rect x="1624.5" y="1015" width="5" height="35" fill="#f2f3f4"/>
<line x1="338" y1="867" x2="957" y2="867" stroke="#E8BE33" stroke-width="6" stroke-dasharray="24.5 17.5"/>
<line x1="316.75" y1="1102.7" x2="960" y2="1102.7" stroke="#E8BE33" stroke-width="6" stroke-dasharray="23.5 18.5"/>
<line x1="323" y1="868.5" x2="323" y2="1103" stroke="#E8BE33" stroke-width="6" stroke-dasharray="24.5 17.5"/>
<line x1="956.5" y1="877.5" x2="956.5" y2="1104" stroke="#E8BE33" stroke-width="6" stroke-dasharray="24.5 17.5"/>
<circle cx="479.6" cy="906.5" r="22.5" fill="#d9a800" opacity="0.45"/>
<circle cx="479.6" cy="906.5" r="19.5" fill="#FFC30B" stroke="#DCA800" stroke-width="3.5"/>
<text x="478.40000000000003" y="911.4" font-size="22" font-weight="bold" fill="#2a0e00" text-anchor="middle" textLength="27" lengthAdjust="spacingAndGlyphs">A2</text>
<circle cx="479.6" cy="985.5" r="22.5" fill="#d9a800" opacity="0.45"/>
<circle cx="479.6" cy="985.5" r="19.5" fill="#FFC30B" stroke="#DCA800" stroke-width="3.5"/>
<text x="478.40000000000003" y="990.4" font-size="22" font-weight="bold" fill="#2a0e00" text-anchor="middle" textLength="27" lengthAdjust="spacingAndGlyphs">A1</text>
<circle cx="479.6" cy="1065.5" r="22.5" fill="#d9a800" opacity="0.45"/>
<circle cx="479.6" cy="1065.5" r="19.5" fill="#FFC30B" stroke="#DCA800" stroke-width="3.5"/>
<text x="478.40000000000003" y="1070.4" font-size="22" font-weight="bold" fill="#2a0e00" text-anchor="middle" textLength="27" lengthAdjust="spacingAndGlyphs">A0</text>
<circle cx="798.3" cy="905.5" r="22.5" fill="#d9a800" opacity="0.45"/>
<circle cx="798.3" cy="905.5" r="19.5" fill="#FFC30B" stroke="#DCA800" stroke-width="3.5"/>
<text x="797.0999999999999" y="910.4" font-size="22" font-weight="bold" fill="#2a0e00" text-anchor="middle" textLength="27" lengthAdjust="spacingAndGlyphs">A5</text>
<circle cx="798.3" cy="985.5" r="22.5" fill="#d9a800" opacity="0.45"/>
<circle cx="798.3" cy="985.5" r="19.5" fill="#FFC30B" stroke="#DCA800" stroke-width="3.5"/>
<text x="797.0999999999999" y="990.4" font-size="22" font-weight="bold" fill="#2a0e00" text-anchor="middle" textLength="27" lengthAdjust="spacingAndGlyphs">A4</text>
<circle cx="798.3" cy="1065.5" r="22.5" fill="#d9a800" opacity="0.45"/>
<circle cx="798.3" cy="1065.5" r="19.5" fill="#FFC30B" stroke="#DCA800" stroke-width="3.5"/>
<text x="797.0999999999999" y="1070.4" font-size="22" font-weight="bold" fill="#2a0e00" text-anchor="middle" textLength="27" lengthAdjust="spacingAndGlyphs">A3</text>
<polyline points="139.2,717 139.2,1004.8 260.6,1004.8" stroke="#E8BE33" stroke-width="5.6" fill="none" stroke-linejoin="miter"/>
<polyline points="253,1025 139.2,1025 139.2,1235" stroke="#E8BE33" stroke-width="5.6" fill="none" stroke-linejoin="miter"/>
<polyline points="265,1045 182.8,1045 182.8,1176" stroke="#E8BE33" stroke-width="5.6" fill="none" stroke-linejoin="miter"/>
<polyline points="1781,717 1781,1004.8 1658,1004.8" stroke="#E8BE33" stroke-width="5.6" fill="none" stroke-linejoin="miter"/>
<polyline points="1664,1025 1781,1025 1781,1235" stroke="#E8BE33" stroke-width="5.6" fill="none" stroke-linejoin="miter"/>
<polyline points="1658,1045 1741,1045 1741,1178" stroke="#E8BE33" stroke-width="5.6" fill="none" stroke-linejoin="miter"/>
<text x="801.5" y="417" font-size="33" font-weight="normal" font-style="italic" fill="#262626" text-anchor="start" textLength="313" lengthAdjust="spacingAndGlyphs" stroke="#ffffff" stroke-width="0.5" >(Front View – System)</text>
<text x="10" y="696" font-size="33" font-weight="normal" font-style="normal" fill="#262626" text-anchor="start" textLength="260" lengthAdjust="spacingAndGlyphs" stroke="#ffffff" stroke-width="0.5" >Power Button/LED</text>
<text x="207.5" y="812" font-size="33" font-weight="normal" font-style="normal" fill="#262626" text-anchor="start" textLength="125" lengthAdjust="spacingAndGlyphs" stroke="#ffffff" stroke-width="0.5" >(Node A)</text>
<text x="1597.5" y="695.5" font-size="33" font-weight="normal" font-style="normal" fill="#262626" text-anchor="start" textLength="257" lengthAdjust="spacingAndGlyphs" stroke="#ffffff" stroke-width="0.5" >Power Button/LED</text>
<text x="1587" y="811" font-size="33" font-weight="normal" font-style="normal" fill="#262626" text-anchor="start" textLength="127" lengthAdjust="spacingAndGlyphs" stroke="#ffffff" stroke-width="0.5" >(Node B)</text>
<text x="165" y="1215.5" font-size="33" font-weight="normal" font-style="normal" fill="#262626" text-anchor="start" textLength="221" lengthAdjust="spacingAndGlyphs" stroke="#ffffff" stroke-width="0.5" >UID  Button/LED</text>
<text x="18.5" y="1275" font-size="33" font-weight="normal" font-style="normal" fill="#262626" text-anchor="start" textLength="247" lengthAdjust="spacingAndGlyphs" stroke="#ffffff" stroke-width="0.5" >Information  LEDs</text>
<text x="1528.5" y="1219.5" font-size="33" font-weight="normal" font-style="normal" fill="#262626" text-anchor="start" textLength="222" lengthAdjust="spacingAndGlyphs" stroke="#ffffff" stroke-width="0.5" >UID  Button/LED</text>
<text x="1602.5" y="1272" font-size="33" font-weight="normal" font-style="normal" fill="#262626" text-anchor="start" textLength="248" lengthAdjust="spacingAndGlyphs" stroke="#ffffff" stroke-width="0.5" >Information  LEDs</text>
<rect x="349" y="1363" width="1234.5" height="153.5" fill="#ffffff"/>
<rect x="349" y="1414" width="1234.5" height="102" fill="#cdcdcd"/>
<line x1="348" y1="1363" x2="1585" y2="1363" stroke="#111" stroke-width="2.2"/>
<line x1="348" y1="1414.5" x2="1585" y2="1414.5" stroke="#111" stroke-width="2.2"/>
<line x1="348" y1="1465" x2="1585" y2="1465" stroke="#111" stroke-width="2.2"/>
<line x1="348" y1="1516.5" x2="1585" y2="1516.5" stroke="#111" stroke-width="2.2"/>
<line x1="349.5" y1="1362" x2="349.5" y2="1517.5" stroke="#444" stroke-width="3"/>
<line x1="637" y1="1362" x2="637" y2="1517.5" stroke="#111" stroke-width="2.2"/>
<line x1="1583.5" y1="1362" x2="1583.5" y2="1517.5" stroke="#444" stroke-width="3"/>
<text x="375" y="1398" font-size="27" font-weight="bold" font-style="normal" fill="#262626" text-anchor="start" textLength="120" lengthAdjust="spacingAndGlyphs" stroke="#ffffff" stroke-width="0.5" >Drive Bay</text>
<text x="505" y="1398" font-size="21.5" font-weight="normal" font-style="normal" fill="#262626" text-anchor="start" textLength="108" lengthAdjust="spacingAndGlyphs" stroke="#ffffff" stroke-width="0.5" >(Node A-B)</text>
<text x="1039" y="1398" font-size="27" font-weight="bold" font-style="normal" fill="#262626" text-anchor="start" textLength="139" lengthAdjust="spacingAndGlyphs" stroke="#ffffff" stroke-width="0.5" >Description</text>
<text x="708" y="1450" font-size="26" font-weight="normal" font-style="normal" fill="#262626" text-anchor="start" textLength="804" lengthAdjust="spacingAndGlyphs" stroke="#cdcdcd" stroke-width="0.5" >2 Hot-swap  3.5" PCIe  5.0 NVMe/SAS/SATA Drive  Bays (from  CPU1)</text>
<text x="708" y="1500" font-size="26" font-weight="normal" font-style="normal" fill="#262626" text-anchor="start" textLength="804" lengthAdjust="spacingAndGlyphs" stroke="#cdcdcd" stroke-width="0.5" >4 Hot-swap  3.5" PCIe  4.0 NVMe/SAS/SATA Drive  Bays (from  CPU2)</text>
<circle cx="453.9" cy="1441.6" r="19.5" fill="#FFC400" stroke="#D4A20A" stroke-width="4.5"/>
<text x="453.9" y="1449.1" font-size="21" font-weight="bold" fill="#2a0f00" text-anchor="middle">0</text>
<circle cx="530" cy="1441.6" r="19.5" fill="#FFC400" stroke="#D4A20A" stroke-width="4.5"/>
<text x="530" y="1449.1" font-size="21" font-weight="bold" fill="#2a0f00" text-anchor="middle">1</text>
<rect x="482" y="1438.1" width="20" height="4.5" fill="#000"/>
<circle cx="453.9" cy="1492" r="19.5" fill="#FFC400" stroke="#D4A20A" stroke-width="4.5"/>
<text x="453.9" y="1499.5" font-size="21" font-weight="bold" fill="#2a0f00" text-anchor="middle">2</text>
<circle cx="530" cy="1492" r="19.5" fill="#FFC400" stroke="#D4A20A" stroke-width="4.5"/>
<text x="530" y="1499.5" font-size="21" font-weight="bold" fill="#2a0f00" text-anchor="middle">5</text>
<rect x="482" y="1488.5" width="20" height="4.5" fill="#000"/>
</svg>
</body></html>
